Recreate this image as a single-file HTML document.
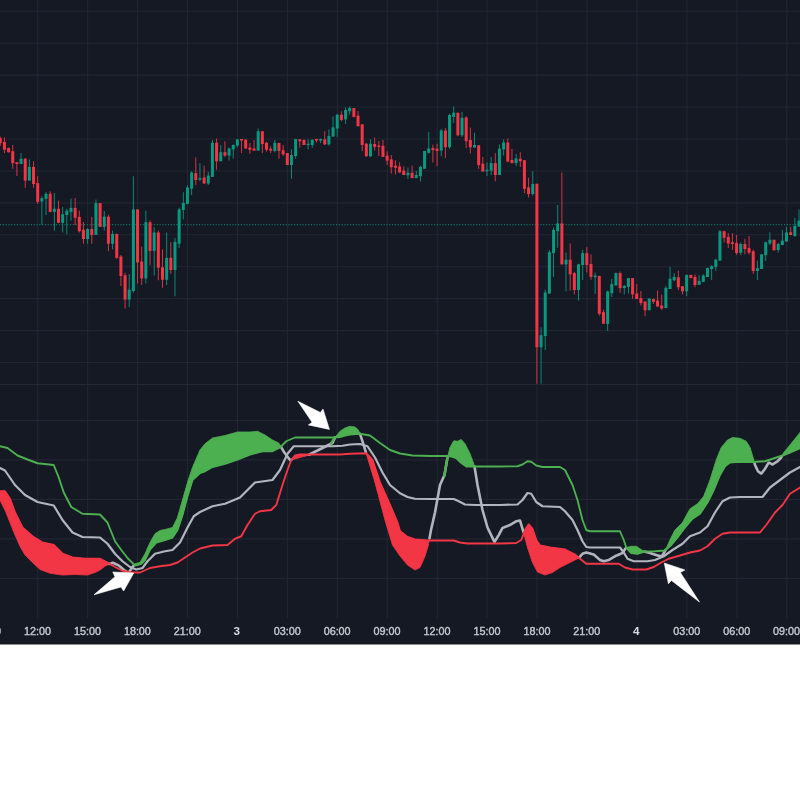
<!DOCTYPE html><html><head><meta charset="utf-8"><title>Chart</title>
<style>html,body{margin:0;padding:0;background:#fff;}body{width:800px;height:800px;overflow:hidden;font-family:"Liberation Sans",sans-serif;}svg{display:block}</style></head><body>
<svg width="800" height="800" viewBox="0 0 800 800">
<rect x="0" y="0" width="800" height="800" fill="#ffffff"/>
<rect x="0" y="0" width="800" height="644.5" fill="#151924"/>
<g stroke="#222632" stroke-width="1.1">
<line x1="37.7" y1="0" x2="37.7" y2="618"/>
<line x1="87.64" y1="0" x2="87.64" y2="618"/>
<line x1="137.57999999999998" y1="0" x2="137.57999999999998" y2="618"/>
<line x1="187.51999999999998" y1="0" x2="187.51999999999998" y2="618"/>
<line x1="237.45999999999998" y1="0" x2="237.45999999999998" y2="618"/>
<line x1="287.4" y1="0" x2="287.4" y2="618"/>
<line x1="337.34" y1="0" x2="337.34" y2="618"/>
<line x1="387.28" y1="0" x2="387.28" y2="618"/>
<line x1="437.21999999999997" y1="0" x2="437.21999999999997" y2="618"/>
<line x1="487.15999999999997" y1="0" x2="487.15999999999997" y2="618"/>
<line x1="537.1" y1="0" x2="537.1" y2="618"/>
<line x1="587.04" y1="0" x2="587.04" y2="618"/>
<line x1="636.98" y1="0" x2="636.98" y2="618"/>
<line x1="686.9200000000001" y1="0" x2="686.9200000000001" y2="618"/>
<line x1="736.86" y1="0" x2="736.86" y2="618"/>
<line x1="786.8" y1="0" x2="786.8" y2="618"/>
<line x1="0" y1="11.28" x2="800" y2="11.28"/>
<line x1="0" y1="43.21" x2="800" y2="43.21"/>
<line x1="0" y1="75.14" x2="800" y2="75.14"/>
<line x1="0" y1="107.07" x2="800" y2="107.07"/>
<line x1="0" y1="139.00" x2="800" y2="139.00"/>
<line x1="0" y1="170.93" x2="800" y2="170.93"/>
<line x1="0" y1="202.86" x2="800" y2="202.86"/>
<line x1="0" y1="234.79" x2="800" y2="234.79"/>
<line x1="0" y1="266.72" x2="800" y2="266.72"/>
<line x1="0" y1="298.65" x2="800" y2="298.65"/>
<line x1="0" y1="330.58" x2="800" y2="330.58"/>
<line x1="0" y1="362.51" x2="800" y2="362.51"/>
<line x1="0" y1="420.40" x2="800" y2="420.40"/>
<line x1="0" y1="459.90" x2="800" y2="459.90"/>
<line x1="0" y1="499.40" x2="800" y2="499.40"/>
<line x1="0" y1="538.90" x2="800" y2="538.90"/>
<line x1="0" y1="578.40" x2="800" y2="578.40"/>
</g>
<rect x="0" y="384" width="800" height="1" fill="#262a36"/>
<line x1="0" y1="224.7" x2="800" y2="224.7" stroke="#089981" stroke-width="1" stroke-dasharray="1.2 1.6" opacity="0.85"/>
<g style="filter:blur(0.35px)">
<rect x="-0.24" y="136.50" width="1" height="9.50" fill="#f23645" opacity="0.88"/>
<rect x="-1.24" y="138.10" width="3" height="5.00" fill="#f23645"/>
<rect x="3.92" y="137.50" width="1" height="15.60" fill="#f23645" opacity="0.88"/>
<rect x="2.92" y="141.90" width="3" height="7.85" fill="#f23645"/>
<rect x="8.08" y="147.50" width="1" height="5.00" fill="#f23645" opacity="0.88"/>
<rect x="7.08" y="148.10" width="3" height="4.15" fill="#f23645"/>
<rect x="12.24" y="145.00" width="1" height="23.75" fill="#f23645" opacity="0.88"/>
<rect x="11.24" y="151.25" width="3" height="11.85" fill="#f23645"/>
<rect x="16.40" y="161.90" width="1" height="14.10" fill="#f23645" opacity="0.88"/>
<rect x="15.40" y="162.25" width="3" height="1.75" fill="#f23645"/>
<rect x="20.56" y="153.10" width="1" height="10.90" fill="#089981" opacity="0.88"/>
<rect x="19.56" y="158.75" width="3" height="5.25" fill="#089981"/>
<rect x="24.72" y="158.50" width="1" height="29.25" fill="#f23645" opacity="0.88"/>
<rect x="23.72" y="158.50" width="3" height="22.10" fill="#f23645"/>
<rect x="28.88" y="159.40" width="1" height="21.20" fill="#089981" opacity="0.88"/>
<rect x="27.88" y="166.90" width="3" height="13.70" fill="#089981"/>
<rect x="33.04" y="161.25" width="1" height="26.50" fill="#f23645" opacity="0.88"/>
<rect x="32.04" y="166.90" width="3" height="17.10" fill="#f23645"/>
<rect x="37.20" y="176.25" width="1" height="27.75" fill="#f23645" opacity="0.88"/>
<rect x="36.20" y="183.10" width="3" height="18.80" fill="#f23645"/>
<rect x="41.36" y="196.25" width="1" height="28.50" fill="#089981" opacity="0.88"/>
<rect x="40.36" y="198.10" width="3" height="3.40" fill="#089981"/>
<rect x="45.52" y="192.25" width="1" height="22.75" fill="#089981" opacity="0.88"/>
<rect x="44.52" y="193.75" width="3" height="5.00" fill="#089981"/>
<rect x="49.68" y="191.25" width="1" height="21.00" fill="#f23645" opacity="0.88"/>
<rect x="48.68" y="193.75" width="3" height="18.15" fill="#f23645"/>
<rect x="53.84" y="193.10" width="1" height="37.50" fill="#089981" opacity="0.88"/>
<rect x="52.84" y="208.75" width="3" height="3.15" fill="#089981"/>
<rect x="58.00" y="200.60" width="1" height="22.50" fill="#f23645" opacity="0.88"/>
<rect x="57.00" y="208.75" width="3" height="14.00" fill="#f23645"/>
<rect x="62.16" y="206.90" width="1" height="25.60" fill="#089981" opacity="0.88"/>
<rect x="61.16" y="214.20" width="3" height="8.55" fill="#089981"/>
<rect x="66.32" y="208.75" width="1" height="25.65" fill="#089981" opacity="0.88"/>
<rect x="65.32" y="210.60" width="3" height="4.40" fill="#089981"/>
<rect x="70.48" y="198.75" width="1" height="21.85" fill="#089981" opacity="0.88"/>
<rect x="69.48" y="207.90" width="3" height="4.00" fill="#089981"/>
<rect x="74.64" y="198.00" width="1" height="27.00" fill="#f23645" opacity="0.88"/>
<rect x="73.64" y="207.90" width="3" height="9.90" fill="#f23645"/>
<rect x="78.80" y="210.60" width="1" height="21.90" fill="#f23645" opacity="0.88"/>
<rect x="77.80" y="216.90" width="3" height="14.35" fill="#f23645"/>
<rect x="82.96" y="221.90" width="1" height="21.85" fill="#f23645" opacity="0.88"/>
<rect x="81.96" y="229.75" width="3" height="9.25" fill="#f23645"/>
<rect x="87.12" y="228.00" width="1" height="15.75" fill="#089981" opacity="0.88"/>
<rect x="86.12" y="229.00" width="3" height="10.00" fill="#089981"/>
<rect x="91.28" y="216.90" width="1" height="26.85" fill="#f23645" opacity="0.88"/>
<rect x="90.28" y="229.00" width="3" height="6.00" fill="#f23645"/>
<rect x="95.44" y="199.50" width="1" height="35.50" fill="#089981" opacity="0.88"/>
<rect x="94.44" y="203.10" width="3" height="31.90" fill="#089981"/>
<rect x="99.60" y="203.10" width="1" height="23.80" fill="#f23645" opacity="0.88"/>
<rect x="98.60" y="203.10" width="3" height="23.80" fill="#f23645"/>
<rect x="103.76" y="211.00" width="1" height="19.60" fill="#089981" opacity="0.88"/>
<rect x="102.76" y="216.60" width="3" height="10.30" fill="#089981"/>
<rect x="107.92" y="214.70" width="1" height="36.55" fill="#f23645" opacity="0.88"/>
<rect x="106.92" y="216.60" width="3" height="27.15" fill="#f23645"/>
<rect x="112.08" y="230.60" width="1" height="18.80" fill="#089981" opacity="0.88"/>
<rect x="111.08" y="234.00" width="3" height="9.75" fill="#089981"/>
<rect x="116.24" y="233.40" width="1" height="25.35" fill="#f23645" opacity="0.88"/>
<rect x="115.24" y="234.00" width="3" height="23.80" fill="#f23645"/>
<rect x="120.40" y="255.00" width="1" height="31.00" fill="#f23645" opacity="0.88"/>
<rect x="119.40" y="256.50" width="3" height="19.50" fill="#f23645"/>
<rect x="124.56" y="272.80" width="1" height="35.60" fill="#f23645" opacity="0.88"/>
<rect x="123.56" y="275.25" width="3" height="24.35" fill="#f23645"/>
<rect x="128.72" y="274.00" width="1" height="33.00" fill="#089981" opacity="0.88"/>
<rect x="127.72" y="289.70" width="3" height="9.90" fill="#089981"/>
<rect x="132.88" y="176.25" width="1" height="116.25" fill="#089981" opacity="0.88"/>
<rect x="131.88" y="209.40" width="3" height="81.60" fill="#089981"/>
<rect x="137.04" y="209.40" width="1" height="74.10" fill="#f23645" opacity="0.88"/>
<rect x="136.04" y="209.40" width="3" height="53.10" fill="#f23645"/>
<rect x="141.20" y="246.50" width="1" height="38.50" fill="#f23645" opacity="0.88"/>
<rect x="140.20" y="261.50" width="3" height="16.90" fill="#f23645"/>
<rect x="145.36" y="210.50" width="1" height="73.00" fill="#089981" opacity="0.88"/>
<rect x="144.36" y="222.20" width="3" height="56.20" fill="#089981"/>
<rect x="149.52" y="220.30" width="1" height="45.00" fill="#f23645" opacity="0.88"/>
<rect x="148.52" y="222.20" width="3" height="28.70" fill="#f23645"/>
<rect x="153.68" y="227.25" width="1" height="48.35" fill="#089981" opacity="0.88"/>
<rect x="152.68" y="232.50" width="3" height="18.40" fill="#089981"/>
<rect x="157.84" y="230.60" width="1" height="49.70" fill="#f23645" opacity="0.88"/>
<rect x="156.84" y="232.50" width="3" height="35.25" fill="#f23645"/>
<rect x="162.00" y="249.40" width="1" height="38.40" fill="#f23645" opacity="0.88"/>
<rect x="161.00" y="267.20" width="3" height="12.55" fill="#f23645"/>
<rect x="166.16" y="232.50" width="1" height="52.50" fill="#089981" opacity="0.88"/>
<rect x="165.16" y="257.80" width="3" height="21.95" fill="#089981"/>
<rect x="170.32" y="242.25" width="1" height="31.50" fill="#f23645" opacity="0.88"/>
<rect x="169.32" y="257.80" width="3" height="12.20" fill="#f23645"/>
<rect x="174.48" y="238.10" width="1" height="58.15" fill="#089981" opacity="0.88"/>
<rect x="173.48" y="241.90" width="3" height="28.10" fill="#089981"/>
<rect x="178.64" y="207.75" width="1" height="40.15" fill="#089981" opacity="0.88"/>
<rect x="177.64" y="209.40" width="3" height="34.35" fill="#089981"/>
<rect x="182.80" y="192.20" width="1" height="27.20" fill="#089981" opacity="0.88"/>
<rect x="181.80" y="203.00" width="3" height="7.00" fill="#089981"/>
<rect x="186.96" y="185.25" width="1" height="19.15" fill="#089981" opacity="0.88"/>
<rect x="185.96" y="187.50" width="3" height="16.30" fill="#089981"/>
<rect x="191.12" y="171.40" width="1" height="23.60" fill="#089981" opacity="0.88"/>
<rect x="190.12" y="172.50" width="3" height="16.10" fill="#089981"/>
<rect x="195.28" y="157.50" width="1" height="27.50" fill="#f23645" opacity="0.88"/>
<rect x="194.28" y="173.10" width="3" height="6.90" fill="#f23645"/>
<rect x="199.44" y="163.10" width="1" height="18.15" fill="#089981" opacity="0.88"/>
<rect x="198.44" y="178.10" width="3" height="1.65" fill="#089981"/>
<rect x="203.60" y="165.60" width="1" height="18.15" fill="#f23645" opacity="0.88"/>
<rect x="202.60" y="177.50" width="3" height="6.00" fill="#f23645"/>
<rect x="207.76" y="171.90" width="1" height="13.10" fill="#089981" opacity="0.88"/>
<rect x="206.76" y="175.60" width="3" height="7.90" fill="#089981"/>
<rect x="211.92" y="140.00" width="1" height="36.90" fill="#089981" opacity="0.88"/>
<rect x="210.92" y="142.75" width="3" height="34.15" fill="#089981"/>
<rect x="216.08" y="138.50" width="1" height="31.25" fill="#f23645" opacity="0.88"/>
<rect x="215.08" y="142.75" width="3" height="18.50" fill="#f23645"/>
<rect x="220.24" y="145.00" width="1" height="16.25" fill="#089981" opacity="0.88"/>
<rect x="219.24" y="152.25" width="3" height="9.00" fill="#089981"/>
<rect x="224.40" y="141.25" width="1" height="15.65" fill="#f23645" opacity="0.88"/>
<rect x="223.40" y="152.25" width="3" height="3.35" fill="#f23645"/>
<rect x="228.56" y="147.50" width="1" height="13.10" fill="#089981" opacity="0.88"/>
<rect x="227.56" y="148.50" width="3" height="7.10" fill="#089981"/>
<rect x="232.72" y="144.40" width="1" height="14.35" fill="#089981" opacity="0.88"/>
<rect x="231.72" y="145.00" width="3" height="4.40" fill="#089981"/>
<rect x="236.88" y="139.00" width="1" height="7.90" fill="#089981" opacity="0.88"/>
<rect x="235.88" y="139.40" width="3" height="6.20" fill="#089981"/>
<rect x="241.04" y="139.00" width="1" height="14.10" fill="#f23645" opacity="0.88"/>
<rect x="240.04" y="139.00" width="3" height="1.60" fill="#f23645"/>
<rect x="245.20" y="139.00" width="1" height="10.00" fill="#f23645" opacity="0.88"/>
<rect x="244.20" y="139.75" width="3" height="8.75" fill="#f23645"/>
<rect x="249.36" y="143.10" width="1" height="10.65" fill="#f23645" opacity="0.88"/>
<rect x="248.36" y="147.50" width="3" height="2.25" fill="#f23645"/>
<rect x="253.52" y="140.00" width="1" height="10.60" fill="#f23645" opacity="0.88"/>
<rect x="252.52" y="148.50" width="3" height="2.10" fill="#f23645"/>
<rect x="257.68" y="128.50" width="1" height="22.10" fill="#089981" opacity="0.88"/>
<rect x="256.68" y="131.25" width="3" height="19.35" fill="#089981"/>
<rect x="261.84" y="131.00" width="1" height="22.10" fill="#f23645" opacity="0.88"/>
<rect x="260.84" y="131.25" width="3" height="12.75" fill="#f23645"/>
<rect x="266.00" y="141.90" width="1" height="9.60" fill="#f23645" opacity="0.88"/>
<rect x="265.00" y="142.75" width="3" height="7.00" fill="#f23645"/>
<rect x="270.16" y="146.25" width="1" height="6.85" fill="#f23645" opacity="0.88"/>
<rect x="269.16" y="148.75" width="3" height="1.85" fill="#f23645"/>
<rect x="274.32" y="140.00" width="1" height="12.50" fill="#089981" opacity="0.88"/>
<rect x="273.32" y="142.75" width="3" height="8.25" fill="#089981"/>
<rect x="278.48" y="142.75" width="1" height="16.00" fill="#f23645" opacity="0.88"/>
<rect x="277.48" y="143.10" width="3" height="7.90" fill="#f23645"/>
<rect x="282.64" y="145.00" width="1" height="11.00" fill="#f23645" opacity="0.88"/>
<rect x="281.64" y="150.25" width="3" height="4.15" fill="#f23645"/>
<rect x="286.80" y="153.10" width="1" height="11.90" fill="#f23645" opacity="0.88"/>
<rect x="285.80" y="153.10" width="3" height="11.90" fill="#f23645"/>
<rect x="290.96" y="149.40" width="1" height="29.35" fill="#089981" opacity="0.88"/>
<rect x="289.96" y="155.00" width="3" height="10.00" fill="#089981"/>
<rect x="295.12" y="139.00" width="1" height="19.75" fill="#089981" opacity="0.88"/>
<rect x="294.12" y="139.00" width="3" height="17.00" fill="#089981"/>
<rect x="299.28" y="139.00" width="1" height="8.75" fill="#f23645" opacity="0.88"/>
<rect x="298.28" y="139.40" width="3" height="1.85" fill="#f23645"/>
<rect x="303.44" y="139.40" width="1" height="5.60" fill="#f23645" opacity="0.88"/>
<rect x="302.44" y="140.00" width="3" height="5.00" fill="#f23645"/>
<rect x="307.60" y="139.40" width="1" height="10.00" fill="#089981" opacity="0.88"/>
<rect x="306.60" y="143.75" width="3" height="1.25" fill="#089981"/>
<rect x="311.76" y="139.40" width="1" height="8.35" fill="#089981" opacity="0.88"/>
<rect x="310.76" y="139.75" width="3" height="5.25" fill="#089981"/>
<rect x="315.92" y="138.75" width="1" height="3.75" fill="#f23645" opacity="0.88"/>
<rect x="314.92" y="139.00" width="3" height="1.60" fill="#f23645"/>
<rect x="320.08" y="138.50" width="1" height="4.60" fill="#089981" opacity="0.88"/>
<rect x="319.08" y="139.00" width="3" height="1.60" fill="#089981"/>
<rect x="324.24" y="131.25" width="1" height="13.75" fill="#f23645" opacity="0.88"/>
<rect x="323.24" y="139.40" width="3" height="5.00" fill="#f23645"/>
<rect x="328.40" y="129.40" width="1" height="16.20" fill="#089981" opacity="0.88"/>
<rect x="327.40" y="136.00" width="3" height="8.40" fill="#089981"/>
<rect x="332.56" y="116.50" width="1" height="20.40" fill="#089981" opacity="0.88"/>
<rect x="331.56" y="127.50" width="3" height="9.00" fill="#089981"/>
<rect x="336.72" y="113.75" width="1" height="23.15" fill="#089981" opacity="0.88"/>
<rect x="335.72" y="114.75" width="3" height="13.75" fill="#089981"/>
<rect x="340.88" y="111.25" width="1" height="10.00" fill="#f23645" opacity="0.88"/>
<rect x="339.88" y="114.75" width="3" height="5.25" fill="#f23645"/>
<rect x="345.04" y="107.50" width="1" height="16.50" fill="#089981" opacity="0.88"/>
<rect x="344.04" y="110.00" width="3" height="9.40" fill="#089981"/>
<rect x="349.20" y="106.50" width="1" height="8.25" fill="#089981" opacity="0.88"/>
<rect x="348.20" y="108.10" width="3" height="3.15" fill="#089981"/>
<rect x="353.36" y="108.10" width="1" height="9.40" fill="#f23645" opacity="0.88"/>
<rect x="352.36" y="108.10" width="3" height="8.80" fill="#f23645"/>
<rect x="357.52" y="111.00" width="1" height="15.25" fill="#f23645" opacity="0.88"/>
<rect x="356.52" y="115.60" width="3" height="10.65" fill="#f23645"/>
<rect x="361.68" y="124.00" width="1" height="27.25" fill="#f23645" opacity="0.88"/>
<rect x="360.68" y="124.40" width="3" height="20.60" fill="#f23645"/>
<rect x="365.84" y="143.10" width="1" height="13.80" fill="#f23645" opacity="0.88"/>
<rect x="364.84" y="143.75" width="3" height="12.50" fill="#f23645"/>
<rect x="370.00" y="139.40" width="1" height="17.50" fill="#089981" opacity="0.88"/>
<rect x="369.00" y="143.75" width="3" height="12.50" fill="#089981"/>
<rect x="374.16" y="137.50" width="1" height="13.10" fill="#f23645" opacity="0.88"/>
<rect x="373.16" y="144.00" width="3" height="2.90" fill="#f23645"/>
<rect x="378.32" y="141.00" width="1" height="15.00" fill="#f23645" opacity="0.88"/>
<rect x="377.32" y="145.60" width="3" height="1.30" fill="#f23645"/>
<rect x="382.48" y="140.00" width="1" height="16.90" fill="#f23645" opacity="0.88"/>
<rect x="381.48" y="145.80" width="3" height="11.10" fill="#f23645"/>
<rect x="386.64" y="151.25" width="1" height="13.75" fill="#f23645" opacity="0.88"/>
<rect x="385.64" y="155.60" width="3" height="5.00" fill="#f23645"/>
<rect x="390.80" y="155.00" width="1" height="18.50" fill="#f23645" opacity="0.88"/>
<rect x="389.80" y="159.40" width="3" height="7.85" fill="#f23645"/>
<rect x="394.96" y="160.25" width="1" height="14.15" fill="#f23645" opacity="0.88"/>
<rect x="393.96" y="165.60" width="3" height="2.15" fill="#f23645"/>
<rect x="399.12" y="162.25" width="1" height="10.25" fill="#f23645" opacity="0.88"/>
<rect x="398.12" y="166.50" width="3" height="6.00" fill="#f23645"/>
<rect x="403.28" y="166.50" width="1" height="8.50" fill="#f23645" opacity="0.88"/>
<rect x="402.28" y="170.60" width="3" height="4.40" fill="#f23645"/>
<rect x="407.44" y="167.50" width="1" height="11.50" fill="#089981" opacity="0.88"/>
<rect x="406.44" y="172.75" width="3" height="2.50" fill="#089981"/>
<rect x="411.60" y="165.60" width="1" height="12.50" fill="#f23645" opacity="0.88"/>
<rect x="410.60" y="172.75" width="3" height="5.35" fill="#f23645"/>
<rect x="415.76" y="171.00" width="1" height="7.10" fill="#089981" opacity="0.88"/>
<rect x="414.76" y="175.00" width="3" height="3.10" fill="#089981"/>
<rect x="419.92" y="165.60" width="1" height="15.90" fill="#089981" opacity="0.88"/>
<rect x="418.92" y="166.90" width="3" height="9.35" fill="#089981"/>
<rect x="424.08" y="151.00" width="1" height="17.75" fill="#089981" opacity="0.88"/>
<rect x="423.08" y="151.00" width="3" height="17.75" fill="#089981"/>
<rect x="428.24" y="131.90" width="1" height="21.60" fill="#089981" opacity="0.88"/>
<rect x="427.24" y="148.50" width="3" height="4.25" fill="#089981"/>
<rect x="432.40" y="144.75" width="1" height="17.75" fill="#f23645" opacity="0.88"/>
<rect x="431.40" y="148.10" width="3" height="1.90" fill="#f23645"/>
<rect x="436.56" y="143.75" width="1" height="22.50" fill="#f23645" opacity="0.88"/>
<rect x="435.56" y="148.75" width="3" height="2.25" fill="#f23645"/>
<rect x="440.72" y="129.00" width="1" height="27.25" fill="#089981" opacity="0.88"/>
<rect x="439.72" y="130.60" width="3" height="20.00" fill="#089981"/>
<rect x="444.88" y="128.10" width="1" height="30.00" fill="#f23645" opacity="0.88"/>
<rect x="443.88" y="130.60" width="3" height="16.65" fill="#f23645"/>
<rect x="449.04" y="113.75" width="1" height="35.00" fill="#089981" opacity="0.88"/>
<rect x="448.04" y="115.00" width="3" height="32.25" fill="#089981"/>
<rect x="453.20" y="106.50" width="1" height="16.60" fill="#089981" opacity="0.88"/>
<rect x="452.20" y="112.75" width="3" height="4.15" fill="#089981"/>
<rect x="457.36" y="112.75" width="1" height="23.50" fill="#f23645" opacity="0.88"/>
<rect x="456.36" y="112.75" width="3" height="22.50" fill="#f23645"/>
<rect x="461.52" y="111.90" width="1" height="25.00" fill="#089981" opacity="0.88"/>
<rect x="460.52" y="117.75" width="3" height="17.50" fill="#089981"/>
<rect x="465.68" y="116.25" width="1" height="31.85" fill="#f23645" opacity="0.88"/>
<rect x="464.68" y="117.50" width="3" height="23.75" fill="#f23645"/>
<rect x="469.84" y="127.50" width="1" height="26.00" fill="#f23645" opacity="0.88"/>
<rect x="468.84" y="140.00" width="3" height="7.25" fill="#f23645"/>
<rect x="474.00" y="132.75" width="1" height="14.75" fill="#089981" opacity="0.88"/>
<rect x="473.00" y="145.00" width="3" height="2.50" fill="#089981"/>
<rect x="478.16" y="145.00" width="1" height="23.75" fill="#f23645" opacity="0.88"/>
<rect x="477.16" y="145.30" width="3" height="19.80" fill="#f23645"/>
<rect x="482.32" y="156.90" width="1" height="15.00" fill="#f23645" opacity="0.88"/>
<rect x="481.32" y="163.75" width="3" height="7.75" fill="#f23645"/>
<rect x="486.48" y="162.25" width="1" height="13.75" fill="#089981" opacity="0.88"/>
<rect x="485.48" y="169.75" width="3" height="1.50" fill="#089981"/>
<rect x="490.64" y="156.90" width="1" height="18.10" fill="#089981" opacity="0.88"/>
<rect x="489.64" y="163.10" width="3" height="7.50" fill="#089981"/>
<rect x="494.80" y="153.10" width="1" height="28.15" fill="#f23645" opacity="0.88"/>
<rect x="493.80" y="163.10" width="3" height="11.90" fill="#f23645"/>
<rect x="498.96" y="144.40" width="1" height="30.60" fill="#089981" opacity="0.88"/>
<rect x="497.96" y="148.75" width="3" height="26.25" fill="#089981"/>
<rect x="503.12" y="139.40" width="1" height="16.20" fill="#089981" opacity="0.88"/>
<rect x="502.12" y="142.50" width="3" height="6.90" fill="#089981"/>
<rect x="507.28" y="138.50" width="1" height="23.75" fill="#f23645" opacity="0.88"/>
<rect x="506.28" y="142.50" width="3" height="19.00" fill="#f23645"/>
<rect x="511.44" y="148.75" width="1" height="14.75" fill="#f23645" opacity="0.88"/>
<rect x="510.44" y="160.00" width="3" height="3.10" fill="#f23645"/>
<rect x="515.60" y="154.00" width="1" height="12.00" fill="#089981" opacity="0.88"/>
<rect x="514.60" y="158.50" width="3" height="4.60" fill="#089981"/>
<rect x="519.76" y="152.25" width="1" height="14.65" fill="#f23645" opacity="0.88"/>
<rect x="518.76" y="158.75" width="3" height="2.50" fill="#f23645"/>
<rect x="523.92" y="160.00" width="1" height="33.10" fill="#f23645" opacity="0.88"/>
<rect x="522.92" y="160.25" width="3" height="28.50" fill="#f23645"/>
<rect x="528.08" y="177.75" width="1" height="19.75" fill="#f23645" opacity="0.88"/>
<rect x="527.08" y="187.50" width="3" height="6.50" fill="#f23645"/>
<rect x="532.24" y="171.25" width="1" height="24.35" fill="#089981" opacity="0.88"/>
<rect x="531.24" y="184.00" width="3" height="10.00" fill="#089981"/>
<rect x="536.40" y="183.75" width="1" height="200.00" fill="#f23645" opacity="0.88"/>
<rect x="535.40" y="183.75" width="3" height="163.50" fill="#f23645"/>
<rect x="540.56" y="327.25" width="1" height="56.50" fill="#089981" opacity="0.88"/>
<rect x="539.56" y="335.25" width="3" height="12.00" fill="#089981"/>
<rect x="544.72" y="289.75" width="1" height="60.25" fill="#089981" opacity="0.88"/>
<rect x="543.72" y="292.50" width="3" height="43.50" fill="#089981"/>
<rect x="548.88" y="250.00" width="1" height="43.75" fill="#089981" opacity="0.88"/>
<rect x="547.88" y="252.25" width="3" height="41.25" fill="#089981"/>
<rect x="553.04" y="227.50" width="1" height="49.40" fill="#089981" opacity="0.88"/>
<rect x="552.04" y="230.00" width="3" height="23.10" fill="#089981"/>
<rect x="557.20" y="205.00" width="1" height="42.75" fill="#089981" opacity="0.88"/>
<rect x="556.20" y="223.50" width="3" height="7.75" fill="#089981"/>
<rect x="561.36" y="172.50" width="1" height="91.90" fill="#f23645" opacity="0.88"/>
<rect x="560.36" y="223.50" width="3" height="40.90" fill="#f23645"/>
<rect x="565.52" y="252.50" width="1" height="39.00" fill="#089981" opacity="0.88"/>
<rect x="564.52" y="259.75" width="3" height="4.65" fill="#089981"/>
<rect x="569.68" y="243.50" width="1" height="47.10" fill="#f23645" opacity="0.88"/>
<rect x="568.68" y="259.75" width="3" height="14.65" fill="#f23645"/>
<rect x="573.84" y="271.90" width="1" height="22.50" fill="#f23645" opacity="0.88"/>
<rect x="572.84" y="273.10" width="3" height="16.90" fill="#f23645"/>
<rect x="578.00" y="263.75" width="1" height="36.85" fill="#089981" opacity="0.88"/>
<rect x="577.00" y="264.40" width="3" height="25.60" fill="#089981"/>
<rect x="582.16" y="249.75" width="1" height="30.25" fill="#089981" opacity="0.88"/>
<rect x="581.16" y="253.10" width="3" height="11.90" fill="#089981"/>
<rect x="586.32" y="246.90" width="1" height="25.60" fill="#f23645" opacity="0.88"/>
<rect x="585.32" y="253.10" width="3" height="11.90" fill="#f23645"/>
<rect x="590.48" y="254.40" width="1" height="25.35" fill="#f23645" opacity="0.88"/>
<rect x="589.48" y="264.00" width="3" height="12.90" fill="#f23645"/>
<rect x="594.64" y="272.50" width="1" height="21.25" fill="#089981" opacity="0.88"/>
<rect x="593.64" y="275.60" width="3" height="1.65" fill="#089981"/>
<rect x="598.80" y="275.60" width="1" height="40.00" fill="#f23645" opacity="0.88"/>
<rect x="597.80" y="276.00" width="3" height="37.90" fill="#f23645"/>
<rect x="602.96" y="309.60" width="1" height="14.15" fill="#f23645" opacity="0.88"/>
<rect x="601.96" y="312.20" width="3" height="11.55" fill="#f23645"/>
<rect x="607.12" y="290.60" width="1" height="40.40" fill="#089981" opacity="0.88"/>
<rect x="606.12" y="291.50" width="3" height="32.50" fill="#089981"/>
<rect x="611.28" y="278.75" width="1" height="18.25" fill="#089981" opacity="0.88"/>
<rect x="610.28" y="284.20" width="3" height="8.90" fill="#089981"/>
<rect x="615.44" y="272.60" width="1" height="13.00" fill="#089981" opacity="0.88"/>
<rect x="614.44" y="273.10" width="3" height="12.30" fill="#089981"/>
<rect x="619.60" y="271.50" width="1" height="21.25" fill="#f23645" opacity="0.88"/>
<rect x="618.60" y="273.10" width="3" height="15.00" fill="#f23645"/>
<rect x="623.76" y="285.00" width="1" height="9.40" fill="#089981" opacity="0.88"/>
<rect x="622.76" y="286.00" width="3" height="2.10" fill="#089981"/>
<rect x="627.92" y="278.10" width="1" height="15.40" fill="#089981" opacity="0.88"/>
<rect x="626.92" y="278.10" width="3" height="8.80" fill="#089981"/>
<rect x="632.08" y="278.10" width="1" height="20.65" fill="#f23645" opacity="0.88"/>
<rect x="631.08" y="278.10" width="3" height="16.30" fill="#f23645"/>
<rect x="636.24" y="284.00" width="1" height="15.00" fill="#f23645" opacity="0.88"/>
<rect x="635.24" y="293.50" width="3" height="5.50" fill="#f23645"/>
<rect x="640.40" y="291.00" width="1" height="14.60" fill="#f23645" opacity="0.88"/>
<rect x="639.40" y="298.10" width="3" height="5.00" fill="#f23645"/>
<rect x="644.56" y="301.50" width="1" height="14.75" fill="#f23645" opacity="0.88"/>
<rect x="643.56" y="301.50" width="3" height="8.75" fill="#f23645"/>
<rect x="648.72" y="298.50" width="1" height="11.75" fill="#089981" opacity="0.88"/>
<rect x="647.72" y="298.50" width="3" height="11.75" fill="#089981"/>
<rect x="652.88" y="298.50" width="1" height="5.25" fill="#f23645" opacity="0.88"/>
<rect x="651.88" y="299.00" width="3" height="2.90" fill="#f23645"/>
<rect x="657.04" y="290.60" width="1" height="16.30" fill="#f23645" opacity="0.88"/>
<rect x="656.04" y="300.60" width="3" height="5.90" fill="#f23645"/>
<rect x="661.20" y="294.40" width="1" height="15.60" fill="#f23645" opacity="0.88"/>
<rect x="660.20" y="305.60" width="3" height="2.90" fill="#f23645"/>
<rect x="665.36" y="286.25" width="1" height="21.85" fill="#089981" opacity="0.88"/>
<rect x="664.36" y="287.75" width="3" height="20.35" fill="#089981"/>
<rect x="669.52" y="266.90" width="1" height="22.10" fill="#089981" opacity="0.88"/>
<rect x="668.52" y="278.75" width="3" height="10.25" fill="#089981"/>
<rect x="673.68" y="273.10" width="1" height="7.90" fill="#089981" opacity="0.88"/>
<rect x="672.68" y="276.90" width="3" height="3.35" fill="#089981"/>
<rect x="677.84" y="270.60" width="1" height="19.40" fill="#f23645" opacity="0.88"/>
<rect x="676.84" y="277.25" width="3" height="10.00" fill="#f23645"/>
<rect x="682.00" y="286.00" width="1" height="8.40" fill="#f23645" opacity="0.88"/>
<rect x="681.00" y="286.25" width="3" height="5.00" fill="#f23645"/>
<rect x="686.16" y="274.40" width="1" height="21.85" fill="#089981" opacity="0.88"/>
<rect x="685.16" y="275.00" width="3" height="16.25" fill="#089981"/>
<rect x="690.32" y="274.75" width="1" height="3.35" fill="#f23645" opacity="0.88"/>
<rect x="689.32" y="275.00" width="3" height="3.10" fill="#f23645"/>
<rect x="694.48" y="274.40" width="1" height="12.85" fill="#f23645" opacity="0.88"/>
<rect x="693.48" y="276.90" width="3" height="8.10" fill="#f23645"/>
<rect x="698.64" y="275.25" width="1" height="9.50" fill="#089981" opacity="0.88"/>
<rect x="697.64" y="281.00" width="3" height="3.75" fill="#089981"/>
<rect x="702.80" y="274.20" width="1" height="7.70" fill="#089981" opacity="0.88"/>
<rect x="701.80" y="275.60" width="3" height="6.30" fill="#089981"/>
<rect x="706.96" y="267.60" width="1" height="9.40" fill="#089981" opacity="0.88"/>
<rect x="705.96" y="268.10" width="3" height="8.90" fill="#089981"/>
<rect x="711.12" y="265.25" width="1" height="14.75" fill="#089981" opacity="0.88"/>
<rect x="710.12" y="266.25" width="3" height="2.75" fill="#089981"/>
<rect x="715.28" y="258.75" width="1" height="12.25" fill="#089981" opacity="0.88"/>
<rect x="714.28" y="259.75" width="3" height="7.15" fill="#089981"/>
<rect x="719.44" y="230.00" width="1" height="30.60" fill="#089981" opacity="0.88"/>
<rect x="718.44" y="231.25" width="3" height="29.35" fill="#089981"/>
<rect x="723.60" y="230.60" width="1" height="11.90" fill="#f23645" opacity="0.88"/>
<rect x="722.60" y="231.25" width="3" height="6.50" fill="#f23645"/>
<rect x="727.76" y="233.10" width="1" height="15.00" fill="#f23645" opacity="0.88"/>
<rect x="726.76" y="236.90" width="3" height="6.60" fill="#f23645"/>
<rect x="731.92" y="233.10" width="1" height="16.90" fill="#f23645" opacity="0.88"/>
<rect x="730.92" y="242.25" width="3" height="1.75" fill="#f23645"/>
<rect x="736.08" y="235.00" width="1" height="19.75" fill="#f23645" opacity="0.88"/>
<rect x="735.08" y="243.10" width="3" height="10.00" fill="#f23645"/>
<rect x="740.24" y="242.50" width="1" height="12.75" fill="#089981" opacity="0.88"/>
<rect x="739.24" y="244.00" width="3" height="8.75" fill="#089981"/>
<rect x="744.40" y="238.75" width="1" height="15.65" fill="#f23645" opacity="0.88"/>
<rect x="743.40" y="244.00" width="3" height="5.00" fill="#f23645"/>
<rect x="748.56" y="236.00" width="1" height="18.40" fill="#f23645" opacity="0.88"/>
<rect x="747.56" y="248.10" width="3" height="4.65" fill="#f23645"/>
<rect x="752.72" y="249.75" width="1" height="24.00" fill="#f23645" opacity="0.88"/>
<rect x="751.72" y="251.25" width="3" height="19.75" fill="#f23645"/>
<rect x="756.88" y="260.60" width="1" height="19.40" fill="#089981" opacity="0.88"/>
<rect x="755.88" y="268.10" width="3" height="2.90" fill="#089981"/>
<rect x="761.04" y="254.00" width="1" height="15.00" fill="#089981" opacity="0.88"/>
<rect x="760.04" y="254.40" width="3" height="14.60" fill="#089981"/>
<rect x="765.20" y="241.50" width="1" height="19.50" fill="#089981" opacity="0.88"/>
<rect x="764.20" y="242.25" width="3" height="13.00" fill="#089981"/>
<rect x="769.36" y="232.25" width="1" height="12.75" fill="#089981" opacity="0.88"/>
<rect x="768.36" y="239.75" width="3" height="3.75" fill="#089981"/>
<rect x="773.52" y="239.75" width="1" height="10.85" fill="#f23645" opacity="0.88"/>
<rect x="772.52" y="239.75" width="3" height="10.50" fill="#f23645"/>
<rect x="777.68" y="243.10" width="1" height="9.40" fill="#089981" opacity="0.88"/>
<rect x="776.68" y="244.00" width="3" height="6.00" fill="#089981"/>
<rect x="781.84" y="229.75" width="1" height="15.50" fill="#089981" opacity="0.88"/>
<rect x="780.84" y="240.60" width="3" height="4.40" fill="#089981"/>
<rect x="786.00" y="226.90" width="1" height="15.00" fill="#089981" opacity="0.88"/>
<rect x="785.00" y="232.50" width="3" height="9.00" fill="#089981"/>
<rect x="790.16" y="226.90" width="1" height="8.35" fill="#f23645" opacity="0.88"/>
<rect x="789.16" y="232.25" width="3" height="2.75" fill="#f23645"/>
<rect x="794.32" y="217.75" width="1" height="19.15" fill="#089981" opacity="0.88"/>
<rect x="793.32" y="226.00" width="3" height="10.00" fill="#089981"/>
<rect x="798.48" y="209.40" width="1" height="17.50" fill="#089981" opacity="0.88"/>
<rect x="797.48" y="220.60" width="3" height="5.90" fill="#089981"/>
</g>
<polygon points="134.00,565.11 134.50,564.43 135.00,563.75 135.50,563.62 136.00,563.50 136.50,563.38 137.00,563.25 137.50,563.12 138.00,563.00 138.50,562.88 139.00,562.75 139.50,562.62 140.00,562.50 140.50,561.62 141.00,560.75 141.50,559.88 142.00,559.00 142.50,558.12 143.00,557.25 143.50,556.38 144.00,555.50 144.50,554.62 145.00,553.75 145.50,552.62 146.00,551.50 146.50,550.38 147.00,549.25 147.50,548.12 148.00,547.00 148.50,545.88 149.00,544.75 149.50,543.62 150.00,542.50 150.50,541.62 151.00,540.75 151.50,539.88 152.00,539.00 152.50,538.12 153.00,537.25 153.50,536.38 154.00,535.50 154.50,534.62 155.00,533.75 155.50,533.42 156.00,533.10 156.50,532.77 157.00,532.45 157.50,532.12 158.00,531.80 158.50,531.48 159.00,531.15 159.50,530.83 160.00,530.50 160.50,530.40 161.00,530.30 161.50,530.20 162.00,530.10 162.50,530.00 163.00,529.90 163.50,529.80 164.00,529.70 164.50,529.60 165.00,529.50 165.50,529.37 166.00,529.23 166.50,529.10 167.00,528.97 167.50,528.83 168.00,528.70 168.50,528.57 169.00,528.43 169.50,528.30 170.00,528.17 170.50,528.03 171.00,527.90 171.50,527.77 172.00,527.63 172.50,527.50 173.00,526.50 173.50,525.50 174.00,524.50 174.50,523.50 175.00,522.50 175.50,521.50 176.00,520.50 176.50,519.50 177.00,518.50 177.50,517.50 178.00,515.75 178.50,514.00 179.00,512.25 179.50,510.50 180.00,508.75 180.50,507.00 181.00,505.25 181.50,503.50 182.00,501.75 182.50,500.00 183.00,498.25 183.50,496.50 184.00,494.75 184.50,493.00 185.00,491.25 185.50,489.50 186.00,487.75 186.50,486.00 187.00,484.25 187.50,482.50 188.00,481.00 188.50,479.50 189.00,478.00 189.50,476.50 190.00,475.00 190.50,473.50 191.00,472.00 191.50,470.50 192.00,469.00 192.50,467.50 193.00,466.33 193.50,465.17 194.00,464.00 194.50,462.83 195.00,461.67 195.50,460.50 196.00,459.33 196.50,458.17 197.00,457.00 197.50,455.83 198.00,454.67 198.50,453.50 199.00,452.33 199.50,451.17 200.00,450.00 200.50,449.38 201.00,448.75 201.50,448.12 202.00,447.50 202.50,446.88 203.00,446.25 203.50,445.62 204.00,445.00 204.50,444.38 205.00,443.75 205.50,443.37 206.00,442.98 206.50,442.60 207.00,442.22 207.50,441.83 208.00,441.45 208.50,441.07 209.00,440.68 209.50,440.30 210.00,439.92 210.50,439.53 211.00,439.15 211.50,438.77 212.00,438.38 212.50,438.00 213.00,437.90 213.50,437.80 214.00,437.70 214.50,437.60 215.00,437.50 215.50,437.40 216.00,437.30 216.50,437.20 217.00,437.10 217.50,437.00 218.00,436.90 218.50,436.80 219.00,436.70 219.50,436.60 220.00,436.50 220.50,436.40 221.00,436.30 221.50,436.20 222.00,436.10 222.50,436.00 223.00,435.90 223.50,435.80 224.00,435.70 224.50,435.60 225.00,435.50 225.50,435.36 226.00,435.22 226.50,435.08 227.00,434.94 227.50,434.80 228.00,434.66 228.50,434.52 229.00,434.38 229.50,434.24 230.00,434.10 230.50,433.96 231.00,433.82 231.50,433.68 232.00,433.54 232.50,433.40 233.00,433.26 233.50,433.12 234.00,432.98 234.50,432.84 235.00,432.70 235.50,432.56 236.00,432.42 236.50,432.28 237.00,432.14 237.50,432.00 238.00,432.00 238.50,432.00 239.00,432.00 239.50,432.00 240.00,432.00 240.50,432.00 241.00,432.00 241.50,432.00 242.00,432.00 242.50,432.00 243.00,432.00 243.50,432.00 244.00,432.00 244.50,432.00 245.00,432.00 245.50,432.00 246.00,432.00 246.50,432.00 247.00,432.00 247.50,432.00 248.00,432.00 248.50,432.00 249.00,432.00 249.50,432.00 250.00,432.00 250.50,431.95 251.00,431.90 251.50,431.85 252.00,431.80 252.50,431.75 253.00,431.70 253.50,431.65 254.00,431.60 254.50,431.55 255.00,431.50 255.50,431.45 256.00,431.40 256.50,431.35 257.00,431.30 257.50,431.25 258.00,431.50 258.50,431.75 259.00,432.00 259.50,432.25 260.00,432.50 260.50,432.75 261.00,433.00 261.50,433.25 262.00,433.50 262.50,433.75 263.00,434.00 263.50,434.25 264.00,434.50 264.50,434.75 265.00,435.00 265.50,435.33 266.00,435.67 266.50,436.00 267.00,436.33 267.50,436.67 268.00,437.00 268.50,437.33 269.00,437.67 269.50,438.00 270.00,438.33 270.50,438.67 271.00,439.00 271.50,439.33 272.00,439.67 272.50,440.00 273.00,440.24 273.50,440.48 274.00,440.72 274.50,440.96 275.00,441.20 275.50,441.44 276.00,441.68 276.50,441.92 277.00,442.16 277.50,442.40 278.00,442.64 278.50,442.88 279.00,443.43 279.50,444.29 280.00,445.14 280.50,446.00 281.00,446.86 281.00,446.50 280.50,447.00 280.00,447.50 279.50,447.75 279.00,448.00 278.50,448.25 278.00,448.50 277.50,448.75 277.00,449.00 276.50,449.25 276.00,449.50 275.50,449.75 275.00,450.00 274.50,450.25 274.00,450.50 273.50,450.75 273.00,451.00 272.50,451.25 272.00,451.25 271.50,451.25 271.00,451.25 270.50,451.25 270.00,451.25 269.50,451.25 269.00,451.25 268.50,451.25 268.00,451.25 267.50,451.25 267.00,451.25 266.50,451.25 266.00,451.25 265.50,451.25 265.00,451.25 264.50,451.25 264.00,451.25 263.50,451.25 263.00,451.25 262.50,451.25 262.00,451.38 261.50,451.51 261.00,451.64 260.50,451.77 260.00,451.90 259.50,452.03 259.00,452.16 258.50,452.29 258.00,452.42 257.50,452.55 257.00,452.68 256.50,452.81 256.00,452.94 255.50,453.07 255.00,453.20 254.50,453.33 254.00,453.46 253.50,453.59 253.00,453.72 252.50,453.85 252.00,453.98 251.50,454.11 251.00,454.24 250.50,454.37 250.00,454.50 249.50,454.70 249.00,454.90 248.50,455.10 248.00,455.30 247.50,455.50 247.00,455.70 246.50,455.90 246.00,456.10 245.50,456.30 245.00,456.50 244.50,456.70 244.00,456.90 243.50,457.10 243.00,457.30 242.50,457.50 242.00,457.70 241.50,457.90 241.00,458.10 240.50,458.30 240.00,458.50 239.50,458.70 239.00,458.90 238.50,459.10 238.00,459.30 237.50,459.50 237.00,459.67 236.50,459.84 236.00,460.01 235.50,460.18 235.00,460.35 234.50,460.52 234.00,460.69 233.50,460.86 233.00,461.03 232.50,461.20 232.00,461.37 231.50,461.54 231.00,461.71 230.50,461.88 230.00,462.05 229.50,462.22 229.00,462.39 228.50,462.56 228.00,462.73 227.50,462.90 227.00,463.07 226.50,463.24 226.00,463.41 225.50,463.58 225.00,463.75 224.50,463.88 224.00,464.01 223.50,464.14 223.00,464.27 222.50,464.40 222.00,464.53 221.50,464.66 221.00,464.79 220.50,464.92 220.00,465.05 219.50,465.18 219.00,465.31 218.50,465.44 218.00,465.57 217.50,465.70 217.00,465.83 216.50,465.96 216.00,466.09 215.50,466.22 215.00,466.35 214.50,466.48 214.00,466.61 213.50,466.74 213.00,466.87 212.50,467.00 212.00,467.28 211.50,467.57 211.00,467.85 210.50,468.13 210.00,468.42 209.50,468.70 209.00,468.98 208.50,469.27 208.00,469.55 207.50,469.83 207.00,470.12 206.50,470.40 206.00,470.68 205.50,470.97 205.00,471.25 204.50,471.43 204.00,471.60 203.50,471.77 203.00,471.95 202.50,472.12 202.00,472.30 201.50,472.48 201.00,472.65 200.50,472.82 200.00,473.00 199.50,473.47 199.00,473.93 198.50,474.40 198.00,474.87 197.50,475.33 197.00,475.80 196.50,476.27 196.00,476.73 195.50,477.20 195.00,477.67 194.50,478.13 194.00,478.60 193.50,479.07 193.00,479.53 192.50,480.00 192.00,481.62 191.50,483.25 191.00,484.88 190.50,486.50 190.00,488.12 189.50,489.75 189.00,491.38 188.50,493.00 188.00,494.62 187.50,496.25 187.00,498.12 186.50,500.00 186.00,501.88 185.50,503.75 185.00,505.62 184.50,507.50 184.00,509.38 183.50,511.25 183.00,513.12 182.50,515.00 182.00,516.50 181.50,518.00 181.00,519.50 180.50,521.00 180.00,522.50 179.50,524.00 179.00,525.50 178.50,527.00 178.00,528.50 177.50,530.00 177.00,530.75 176.50,531.50 176.00,532.25 175.50,533.00 175.00,533.75 174.50,534.50 174.00,535.25 173.50,536.00 173.00,536.75 172.50,537.50 172.00,537.67 171.50,537.83 171.00,538.00 170.50,538.17 170.00,538.33 169.50,538.50 169.00,538.67 168.50,538.83 168.00,539.00 167.50,539.17 167.00,539.33 166.50,539.50 166.00,539.67 165.50,539.83 165.00,540.00 164.50,540.14 164.00,540.29 163.50,540.43 163.00,540.57 162.50,540.71 162.00,540.86 161.50,541.00 161.00,541.14 160.50,541.29 160.00,541.43 159.50,541.57 159.00,541.71 158.50,541.86 158.00,542.00 157.50,542.14 157.00,542.29 156.50,542.43 156.00,542.78 155.50,543.34 155.00,543.90 154.50,544.46 154.00,545.02 153.50,545.58 153.00,546.14 152.50,546.70 152.00,547.26 151.50,547.82 151.00,548.38 150.50,548.94 150.00,549.50 149.50,550.55 149.00,551.60 148.50,552.65 148.00,553.70 147.50,554.75 147.00,555.80 146.50,556.85 146.00,557.90 145.50,558.95 145.00,560.00 144.50,560.50 144.00,561.00 143.50,561.50 143.00,562.00 142.50,562.50 142.00,563.00 141.50,563.50 141.00,563.82 140.50,563.96 140.00,564.10 139.50,564.24 139.00,564.38 138.50,564.52 138.00,564.66 137.50,564.80 137.00,564.94 136.50,565.08 136.00,565.22 135.50,565.36 135.00,565.50 134.50,565.00 134.00,564.50" fill="#4caf50" stroke="#4caf50" stroke-width="1" stroke-linejoin="round"/>
<polygon points="335.00,437.50 335.50,436.88 336.00,436.25 336.50,435.62 337.00,435.00 337.50,434.38 338.00,433.75 338.50,433.12 339.00,432.50 339.50,431.88 340.00,431.25 340.50,430.93 341.00,430.60 341.50,430.27 342.00,429.95 342.50,429.62 343.00,429.30 343.50,428.98 344.00,428.65 344.50,428.32 345.00,428.00 345.50,427.82 346.00,427.65 346.50,427.48 347.00,427.30 347.50,427.12 348.00,426.95 348.50,426.77 349.00,426.60 349.50,426.43 350.00,426.25 350.50,426.32 351.00,426.40 351.50,426.48 352.00,426.55 352.50,426.62 353.00,426.70 353.50,426.77 354.00,426.85 354.50,426.93 355.00,427.00 355.50,427.42 356.00,427.83 356.50,428.25 357.00,428.67 357.50,429.08 358.00,429.50 358.50,430.56 359.00,431.62 359.50,432.69 360.00,433.75 360.00,433.75 359.50,433.79 359.00,433.82 358.50,433.86 358.00,433.90 357.50,433.94 357.00,433.98 356.50,434.01 356.00,434.05 355.50,434.09 355.00,434.12 354.50,434.16 354.00,434.20 353.50,434.24 353.00,434.27 352.50,434.31 352.00,434.35 351.50,434.39 351.00,434.43 350.50,434.46 350.00,434.50 349.50,434.60 349.00,434.70 348.50,434.80 348.00,434.90 347.50,435.00 347.00,435.10 346.50,435.20 346.00,435.30 345.50,435.40 345.00,435.50 344.50,435.65 344.00,435.80 343.50,435.95 343.00,436.10 342.50,436.25 342.00,436.40 341.50,436.55 341.00,436.70 340.50,436.85 340.00,437.00 339.50,437.03 339.00,437.07 338.50,437.10 338.00,437.13 337.50,437.17 337.00,437.20 336.50,437.23 336.00,437.27 335.50,437.30 335.00,437.33" fill="#4caf50" stroke="#4caf50" stroke-width="1" stroke-linejoin="round"/>
<polygon points="447.50,457.50 448.00,455.50 448.50,453.50 449.00,451.50 449.50,449.50 450.00,447.50 450.50,446.60 451.00,445.70 451.50,444.80 452.00,443.90 452.50,443.00 453.00,442.10 453.50,441.20 454.00,440.78 454.50,440.85 455.00,440.92 455.50,440.98 456.00,441.05 456.50,441.12 457.00,441.18 457.50,441.25 458.00,441.02 458.50,440.78 459.00,440.55 459.50,440.32 460.00,440.08 460.50,439.85 461.00,439.62 461.50,439.78 462.00,440.35 462.50,440.92 463.00,441.48 463.50,442.05 464.00,442.62 464.50,443.18 465.00,443.75 465.50,444.75 466.00,445.75 466.50,446.75 467.00,447.75 467.50,448.75 468.00,449.75 468.50,450.75 469.00,451.75 469.50,452.75 470.00,453.75 470.50,455.08 471.00,456.42 471.50,457.75 472.00,459.08 472.50,460.42 473.00,461.75 473.50,463.08 474.00,464.67 474.50,466.50 474.50,466.50 474.00,466.50 473.50,466.50 473.00,466.50 472.50,466.50 472.00,466.50 471.50,466.50 471.00,466.50 470.50,466.50 470.00,466.50 469.50,466.50 469.00,466.50 468.50,466.50 468.00,466.50 467.50,466.50 467.00,466.50 466.50,466.50 466.00,466.32 465.50,465.98 465.00,465.62 464.50,465.27 464.00,464.93 463.50,464.57 463.00,464.23 462.50,463.88 462.00,463.52 461.50,463.18 461.00,462.75 460.50,462.25 460.00,461.75 459.50,461.25 459.00,460.75 458.50,460.25 458.00,459.75 457.50,459.25 457.00,458.75 456.50,458.25 456.00,457.93 455.50,457.77 455.00,457.62 454.50,457.48 454.00,457.32 453.50,457.18 453.00,457.02 452.50,456.88 452.00,456.73 451.50,456.57 451.00,456.47 450.50,456.40 450.00,456.33 449.50,456.27 449.00,456.20 448.50,456.13 448.00,456.07 447.50,456.00" fill="#4caf50" stroke="#4caf50" stroke-width="1" stroke-linejoin="round"/>
<polygon points="626.00,547.87 626.50,547.44 627.00,547.31 627.50,547.19 628.00,547.06 628.50,546.94 629.00,546.81 629.50,546.69 630.00,546.56 630.50,546.44 631.00,546.31 631.50,546.25 632.00,546.25 632.50,546.25 633.00,546.25 633.50,546.25 634.00,546.25 634.50,546.25 635.00,546.25 635.50,546.25 636.00,546.25 636.50,546.42 637.00,546.75 637.50,547.08 638.00,547.42 638.50,547.75 639.00,548.08 639.50,548.42 640.00,548.75 640.50,549.08 641.00,549.42 641.50,549.75 642.00,550.08 642.50,550.42 643.00,550.75 643.50,551.08 644.00,551.32 644.50,551.46 645.00,551.60 645.50,551.74 645.50,551.67 645.00,551.69 644.50,551.72 644.00,551.74 643.50,551.83 643.00,551.99 642.50,552.15 642.00,552.31 641.50,552.47 641.00,552.63 640.50,552.79 640.00,552.95 639.50,553.11 639.00,553.27 638.50,553.43 638.00,553.59 637.50,553.75 637.00,553.69 636.50,553.63 636.00,553.57 635.50,553.51 635.00,553.45 634.50,553.39 634.00,553.33 633.50,553.27 633.00,553.21 632.50,553.15 632.00,553.09 631.50,553.03 631.00,552.73 630.50,552.17 630.00,551.62 629.50,551.08 629.00,550.52 628.50,549.98 628.00,549.42 627.50,548.88 627.00,548.33 626.50,547.77 626.00,546.75" fill="#4caf50" stroke="#4caf50" stroke-width="1" stroke-linejoin="round"/>
<polygon points="665.00,551.00 665.50,549.90 666.00,548.80 666.50,547.70 667.00,546.60 667.50,545.50 668.00,544.40 668.50,543.30 669.00,542.20 669.50,541.10 670.00,540.00 670.50,539.00 671.00,538.00 671.50,537.00 672.00,536.00 672.50,535.00 673.00,534.00 673.50,533.00 674.00,532.00 674.50,531.00 675.00,530.00 675.50,529.50 676.00,529.00 676.50,528.50 677.00,528.00 677.50,527.50 678.00,527.00 678.50,526.50 679.00,526.00 679.50,525.50 680.00,525.00 680.50,524.50 681.00,524.00 681.50,523.50 682.00,523.00 682.50,522.50 683.00,521.58 683.50,520.67 684.00,519.75 684.50,518.83 685.00,517.92 685.50,517.00 686.00,516.08 686.50,515.17 687.00,514.25 687.50,513.33 688.00,512.42 688.50,511.50 689.00,510.58 689.50,509.67 690.00,508.75 690.50,508.42 691.00,508.08 691.50,507.75 692.00,507.42 692.50,507.08 693.00,506.75 693.50,506.42 694.00,506.08 694.50,505.75 695.00,505.42 695.50,505.08 696.00,504.75 696.50,504.42 697.00,504.08 697.50,503.75 698.00,503.15 698.50,502.55 699.00,501.95 699.50,501.35 700.00,500.75 700.50,500.15 701.00,499.55 701.50,498.95 702.00,498.35 702.50,497.75 703.00,497.15 703.50,496.55 704.00,495.60 704.50,494.30 705.00,493.00 705.50,491.70 706.00,490.40 706.50,489.10 707.00,487.80 707.50,486.50 708.00,485.20 708.50,483.90 709.00,482.60 709.50,481.30 710.00,480.00 710.50,478.40 711.00,476.80 711.50,475.20 712.00,473.60 712.50,472.00 713.00,470.40 713.50,468.80 714.00,467.20 714.50,465.60 715.00,464.00 715.50,462.40 716.00,460.80 716.50,459.38 717.00,458.12 717.50,456.88 718.00,455.62 718.50,454.38 719.00,453.12 719.50,451.88 720.00,450.62 720.50,449.38 721.00,448.12 721.50,447.20 722.00,446.60 722.50,446.00 723.00,445.40 723.50,444.80 724.00,444.20 724.50,443.60 725.00,443.00 725.50,442.40 726.00,441.80 726.50,441.20 727.00,440.60 727.50,440.00 728.00,439.75 728.50,439.50 729.00,439.25 729.50,439.00 730.00,438.75 730.50,438.50 731.00,438.25 731.50,438.00 732.00,437.75 732.50,437.50 733.00,437.55 733.50,437.60 734.00,437.65 734.50,437.70 735.00,437.75 735.50,437.80 736.00,437.85 736.50,437.90 737.00,437.95 737.50,438.00 738.00,438.05 738.50,438.10 739.00,438.15 739.50,438.20 740.00,438.25 740.50,438.49 741.00,438.73 741.50,438.97 742.00,439.21 742.50,439.45 743.00,439.69 743.50,439.93 744.00,440.17 744.50,440.41 745.00,440.65 745.50,440.89 746.00,441.13 746.50,441.67 747.00,442.50 747.50,443.33 748.00,444.17 748.50,445.00 749.00,445.83 749.50,446.67 750.00,447.50 750.50,449.10 751.00,450.70 751.50,452.30 752.00,453.90 752.50,455.50 753.00,457.40 753.50,459.30 754.00,461.20 754.50,463.10 754.50,461.88 754.00,461.91 753.50,461.94 753.00,461.97 752.50,462.00 752.00,462.00 751.50,462.00 751.00,462.00 750.50,462.00 750.00,462.00 749.50,462.00 749.00,462.00 748.50,462.00 748.00,462.00 747.50,462.00 747.00,462.00 746.50,462.00 746.00,462.00 745.50,462.00 745.00,462.00 744.50,462.00 744.00,462.00 743.50,462.00 743.00,462.00 742.50,462.00 742.00,462.00 741.50,462.00 741.00,462.00 740.50,462.00 740.00,462.00 739.50,462.00 739.00,462.00 738.50,462.00 738.00,462.00 737.50,462.00 737.00,462.00 736.50,462.00 736.00,462.02 735.50,462.06 735.00,462.10 734.50,462.14 734.00,462.18 733.50,462.22 733.00,462.26 732.50,462.30 732.00,462.34 731.50,462.38 731.00,462.42 730.50,462.46 730.00,462.50 729.50,462.88 729.00,463.25 728.50,463.62 728.00,464.00 727.50,464.38 727.00,464.75 726.50,465.12 726.00,465.50 725.50,465.88 725.00,466.25 724.50,467.12 724.00,468.00 723.50,468.88 723.00,469.75 722.50,470.62 722.00,471.50 721.50,472.38 721.00,473.25 720.50,474.12 720.00,475.00 719.50,476.20 719.00,477.40 718.50,478.60 718.00,479.80 717.50,481.00 717.00,482.20 716.50,483.40 716.00,484.60 715.50,485.80 715.00,487.00 714.50,488.20 714.00,489.40 713.50,490.50 713.00,491.50 712.50,492.50 712.00,493.50 711.50,494.50 711.00,495.50 710.50,496.50 710.00,497.50 709.50,498.50 709.00,499.50 708.50,500.50 708.00,501.50 707.50,502.50 707.00,503.25 706.50,504.00 706.00,504.75 705.50,505.50 705.00,506.25 704.50,507.00 704.00,507.75 703.50,508.50 703.00,509.25 702.50,510.00 702.00,510.75 701.50,511.50 701.00,512.25 700.50,513.00 700.00,513.75 699.50,514.08 699.00,514.42 698.50,514.75 698.00,515.08 697.50,515.42 697.00,515.75 696.50,516.08 696.00,516.42 695.50,516.75 695.00,517.08 694.50,517.42 694.00,517.75 693.50,518.08 693.00,518.42 692.50,518.75 692.00,519.33 691.50,519.92 691.00,520.50 690.50,521.08 690.00,521.67 689.50,522.25 689.00,522.83 688.50,523.42 688.00,524.00 687.50,524.58 687.00,525.17 686.50,525.75 686.00,526.33 685.50,526.92 685.00,527.50 684.50,528.17 684.00,528.83 683.50,529.50 683.00,530.17 682.50,530.83 682.00,531.50 681.50,532.17 681.00,532.83 680.50,533.50 680.00,534.17 679.50,534.83 679.00,535.50 678.50,536.17 678.00,536.83 677.50,537.50 677.00,538.10 676.50,538.70 676.00,539.30 675.50,539.90 675.00,540.50 674.50,541.10 674.00,541.70 673.50,542.30 673.00,542.90 672.50,543.50 672.00,544.10 671.50,544.70 671.00,545.22 670.50,545.66 670.00,546.10 669.50,546.54 669.00,546.98 668.50,547.42 668.00,547.86 667.50,548.30 667.00,548.74 666.50,549.18 666.00,549.62 665.50,550.06 665.00,550.50" fill="#4caf50" stroke="#4caf50" stroke-width="1" stroke-linejoin="round"/>
<polygon points="782.00,456.00 782.50,455.00 783.00,454.00 783.50,453.00 784.00,452.20 784.50,451.60 785.00,451.00 785.50,450.40 786.00,449.80 786.50,449.20 787.00,448.60 787.50,448.00 788.00,447.40 788.50,446.80 789.00,446.20 789.50,445.60 790.00,445.00 790.50,444.38 791.00,443.75 791.50,443.12 792.00,442.50 792.50,441.88 793.00,441.25 793.50,440.62 794.00,440.00 794.50,439.38 795.00,438.75 795.50,438.12 796.00,437.50 796.50,436.88 797.00,436.25 797.50,435.62 798.00,435.00 798.50,434.38 799.00,433.75 799.50,433.12 800.00,432.50 800.50,431.88 801.00,431.25 801.50,430.62 802.00,430.00 802.00,447.50 801.50,447.71 801.00,447.92 800.50,448.12 800.00,448.33 799.50,448.54 799.00,448.75 798.50,448.96 798.00,449.17 797.50,449.38 797.00,449.58 796.50,449.79 796.00,450.00 795.50,450.21 795.00,450.42 794.50,450.62 794.00,450.83 793.50,451.04 793.00,451.25 792.50,451.46 792.00,451.67 791.50,451.88 791.00,452.08 790.50,452.29 790.00,452.50 789.50,452.70 789.00,452.90 788.50,453.10 788.00,453.30 787.50,453.50 787.00,453.70 786.50,453.90 786.00,454.10 785.50,454.30 785.00,454.50 784.50,454.70 784.00,454.90 783.50,455.10 783.00,455.30 782.50,455.50 782.00,455.67" fill="#4caf50" stroke="#4caf50" stroke-width="1" stroke-linejoin="round"/>
<polygon points="-2.00,491.25 -1.50,491.25 -1.00,491.25 -0.50,491.25 0.00,491.25 0.50,491.25 1.00,491.25 1.50,491.25 2.00,491.25 2.50,491.25 3.00,491.25 3.50,491.25 4.00,491.25 4.50,491.25 5.00,491.25 5.50,492.00 6.00,492.75 6.50,493.50 7.00,494.25 7.50,495.00 8.00,495.75 8.50,496.50 9.00,497.25 9.50,498.00 10.00,498.75 10.50,500.12 11.00,501.50 11.50,502.88 12.00,504.25 12.50,505.62 13.00,507.00 13.50,508.38 14.00,509.75 14.50,511.12 15.00,512.50 15.50,513.50 16.00,514.50 16.50,515.50 17.00,516.50 17.50,517.50 18.00,518.50 18.50,519.50 19.00,520.50 19.50,521.50 20.00,522.50 20.50,523.50 21.00,524.50 21.50,525.50 22.00,526.50 22.50,527.50 23.00,527.94 23.50,528.38 24.00,528.81 24.50,529.25 25.00,529.69 25.50,530.12 26.00,530.56 26.50,531.00 27.00,531.44 27.50,531.88 28.00,532.31 28.50,532.75 29.00,533.19 29.50,533.62 30.00,534.06 30.50,534.50 31.00,534.94 31.50,535.38 32.00,535.81 32.50,536.25 33.00,536.56 33.50,536.88 34.00,537.19 34.50,537.50 35.00,537.81 35.50,538.12 36.00,538.44 36.50,538.75 37.00,539.06 37.50,539.38 38.00,539.69 38.50,540.00 39.00,540.31 39.50,540.62 40.00,540.94 40.50,541.25 41.00,541.56 41.50,541.88 42.00,542.19 42.50,542.50 43.00,542.61 43.50,542.72 44.00,542.83 44.50,542.94 45.00,543.06 45.50,543.17 46.00,543.28 46.50,543.39 47.00,543.50 47.50,543.61 48.00,543.72 48.50,543.83 49.00,543.94 49.50,544.06 50.00,544.17 50.50,544.28 51.00,544.39 51.50,544.50 52.00,544.61 52.50,544.72 53.00,544.83 53.50,544.94 54.00,545.25 54.50,545.75 55.00,546.25 55.50,546.75 56.00,547.25 56.50,547.75 57.00,548.25 57.50,548.75 58.00,549.25 58.50,549.75 59.00,550.25 59.50,550.75 60.00,551.25 60.50,551.75 61.00,552.25 61.50,552.75 62.00,553.25 62.50,553.75 63.00,553.94 63.50,554.12 64.00,554.31 64.50,554.50 65.00,554.69 65.50,554.88 66.00,555.06 66.50,555.25 67.00,555.44 67.50,555.62 68.00,555.81 68.50,556.00 69.00,556.19 69.50,556.38 70.00,556.56 70.50,556.75 71.00,556.94 71.50,557.12 72.00,557.31 72.50,557.50 73.00,557.55 73.50,557.60 74.00,557.65 74.50,557.70 75.00,557.75 75.50,557.80 76.00,557.85 76.50,557.90 77.00,557.95 77.50,558.00 78.00,558.05 78.50,558.10 79.00,558.15 79.50,558.20 80.00,558.25 80.50,558.30 81.00,558.35 81.50,558.40 82.00,558.45 82.50,558.50 83.00,558.55 83.50,558.60 84.00,558.65 84.50,558.70 85.00,558.75 85.50,558.75 86.00,558.75 86.50,558.75 87.00,558.75 87.50,558.75 88.00,558.75 88.50,558.75 89.00,558.75 89.50,558.75 90.00,558.75 90.50,558.75 91.00,558.75 91.50,558.75 92.00,558.75 92.50,558.75 93.00,558.75 93.50,558.75 94.00,558.75 94.50,558.75 95.00,558.75 95.50,558.75 96.00,558.75 96.50,558.75 97.00,558.75 97.50,558.75 98.00,558.75 98.50,558.75 99.00,558.75 99.50,558.75 100.00,558.75 100.50,559.00 101.00,559.25 101.50,559.50 102.00,559.75 102.50,560.00 103.00,560.25 103.50,560.50 104.00,560.75 104.50,561.00 105.00,561.25 105.50,561.50 106.00,561.75 106.50,562.00 107.00,562.25 107.50,562.50 108.00,562.80 108.50,563.10 109.00,563.40 109.50,563.70 110.00,564.00 110.00,563.80 109.50,564.00 109.00,564.20 108.50,564.40 108.00,564.60 107.50,564.88 107.00,565.15 106.50,565.42 106.00,565.70 105.50,565.98 105.00,566.25 104.50,566.62 104.00,567.00 103.50,567.38 103.00,567.75 102.50,568.12 102.00,568.50 101.50,568.88 101.00,569.25 100.50,569.62 100.00,570.00 99.50,570.25 99.00,570.50 98.50,570.75 98.00,571.00 97.50,571.25 97.00,571.50 96.50,571.75 96.00,572.00 95.50,572.25 95.00,572.50 94.50,572.67 94.00,572.83 93.50,573.00 93.00,573.17 92.50,573.33 92.00,573.50 91.50,573.67 91.00,573.83 90.50,574.00 90.00,574.17 89.50,574.33 89.00,574.50 88.50,574.67 88.00,574.83 87.50,575.00 87.00,574.98 86.50,574.96 86.00,574.94 85.50,574.92 85.00,574.90 84.50,574.88 84.00,574.86 83.50,574.84 83.00,574.82 82.50,574.80 82.00,574.78 81.50,574.76 81.00,574.74 80.50,574.72 80.00,574.70 79.50,574.68 79.00,574.66 78.50,574.64 78.00,574.62 77.50,574.60 77.00,574.58 76.50,574.56 76.00,574.54 75.50,574.52 75.00,574.50 74.50,574.52 74.00,574.54 73.50,574.56 73.00,574.58 72.50,574.60 72.00,574.62 71.50,574.64 71.00,574.66 70.50,574.68 70.00,574.70 69.50,574.72 69.00,574.74 68.50,574.76 68.00,574.78 67.50,574.80 67.00,574.82 66.50,574.84 66.00,574.86 65.50,574.88 65.00,574.90 64.50,574.92 64.00,574.94 63.50,574.96 63.00,574.98 62.50,575.00 62.00,574.93 61.50,574.86 61.00,574.79 60.50,574.72 60.00,574.65 59.50,574.58 59.00,574.51 58.50,574.44 58.00,574.37 57.50,574.30 57.00,574.23 56.50,574.16 56.00,574.09 55.50,574.02 55.00,573.95 54.50,573.88 54.00,573.81 53.50,573.74 53.00,573.67 52.50,573.60 52.00,573.53 51.50,573.46 51.00,573.39 50.50,573.32 50.00,573.25 49.50,573.06 49.00,572.88 48.50,572.69 48.00,572.50 47.50,572.31 47.00,572.12 46.50,571.94 46.00,571.75 45.50,571.56 45.00,571.38 44.50,571.19 44.00,571.00 43.50,570.81 43.00,570.62 42.50,570.44 42.00,570.25 41.50,570.06 41.00,569.88 40.50,569.69 40.00,569.50 39.50,569.03 39.00,568.57 38.50,568.10 38.00,567.63 37.50,567.17 37.00,566.70 36.50,566.23 36.00,565.77 35.50,565.30 35.00,564.83 34.50,564.37 34.00,563.90 33.50,563.43 33.00,562.97 32.50,562.50 32.00,562.00 31.50,561.50 31.00,561.00 30.50,560.50 30.00,560.00 29.50,559.50 29.00,559.00 28.50,558.50 28.00,558.00 27.50,557.50 27.00,557.00 26.50,556.50 26.00,556.00 25.50,555.50 25.00,555.00 24.50,554.12 24.00,553.25 23.50,552.38 23.00,551.50 22.50,550.62 22.00,549.75 21.50,548.88 21.00,548.00 20.50,547.12 20.00,546.25 19.50,545.12 19.00,544.00 18.50,542.88 18.00,541.75 17.50,540.62 17.00,539.50 16.50,538.38 16.00,537.25 15.50,536.12 15.00,535.00 14.50,533.75 14.00,532.50 13.50,531.25 13.00,530.00 12.50,528.75 12.00,527.50 11.50,526.25 11.00,525.00 10.50,523.75 10.00,522.50 9.50,521.25 9.00,520.00 8.50,518.75 8.00,517.50 7.50,516.25 7.00,515.00 6.50,513.75 6.00,512.50 5.50,511.25 5.00,510.00 4.50,509.00 4.00,508.00 3.50,507.00 3.00,506.00 2.50,505.00 2.00,504.00 1.50,503.00 1.00,502.00 0.50,501.00 0.00,500.00 -0.50,499.00 -1.00,498.00 -1.50,497.00 -2.00,496.00" fill="#f23645" stroke="#f23645" stroke-width="1" stroke-linejoin="round"/>
<polygon points="126.50,571.68 127.00,571.80 127.50,571.92 128.00,572.03 128.50,572.15 129.00,572.27 129.00,572.08 128.50,572.80 128.00,572.49 127.50,572.18 127.00,571.87 126.50,571.56" fill="#f23645" stroke="#f23645" stroke-width="1" stroke-linejoin="round"/>
<polygon points="291.00,460.67 291.50,459.70 292.00,459.10 292.50,458.50 293.00,457.90 293.50,457.30 294.00,456.70 294.50,456.10 295.00,455.50 295.50,455.40 296.00,455.30 296.50,455.20 297.00,455.10 297.50,455.00 298.00,454.90 298.50,454.80 299.00,454.70 299.50,454.60 300.00,454.50 300.50,454.50 301.00,454.50 301.50,454.50 302.00,454.50 302.50,454.50 303.00,454.50 303.50,454.50 304.00,454.50 304.50,454.50 305.00,454.50 305.50,454.50 306.00,454.50 306.50,454.50 307.00,454.50 307.50,454.50 308.00,454.50 308.50,454.50 309.00,454.50 309.50,454.50 309.50,454.50 309.00,454.75 308.50,455.00 308.00,455.25 307.50,455.50 307.00,455.63 306.50,455.77 306.00,455.90 305.50,456.03 305.00,456.17 304.50,456.30 304.00,456.43 303.50,456.57 303.00,456.70 302.50,456.83 302.00,456.97 301.50,457.10 301.00,457.23 300.50,457.37 300.00,457.50 299.50,457.64 299.00,457.79 298.50,457.93 298.00,458.07 297.50,458.21 297.00,458.36 296.50,458.50 296.00,458.64 295.50,458.79 295.00,458.93 294.50,459.07 294.00,459.21 293.50,459.36 293.00,459.50 292.50,459.58 292.00,459.67 291.50,459.75 291.00,459.83" fill="#f23645" stroke="#f23645" stroke-width="1" stroke-linejoin="round"/>
<polygon points="366.00,453.26 366.50,453.52 367.00,454.06 367.50,454.60 368.00,455.14 368.50,455.68 369.00,456.22 369.50,456.76 370.00,457.30 370.50,457.84 371.00,458.38 371.50,458.92 372.00,459.46 372.50,460.00 373.00,461.50 373.50,463.00 374.00,464.50 374.50,466.00 375.00,467.50 375.50,469.00 376.00,470.50 376.50,472.00 377.00,473.50 377.50,475.00 378.00,476.50 378.50,478.00 379.00,479.50 379.50,481.00 380.00,482.50 380.50,483.62 381.00,484.75 381.50,485.88 382.00,487.00 382.50,488.12 383.00,489.25 383.50,490.38 384.00,491.50 384.50,492.62 385.00,493.75 385.50,494.88 386.00,496.00 386.50,497.12 387.00,498.25 387.50,499.38 388.00,500.50 388.50,501.62 389.00,502.75 389.50,503.88 390.00,505.00 390.50,506.17 391.00,507.33 391.50,508.50 392.00,509.67 392.50,510.83 393.00,512.00 393.50,513.17 394.00,514.33 394.50,515.50 395.00,516.67 395.50,517.83 396.00,519.00 396.50,520.17 397.00,521.33 397.50,522.50 398.00,524.20 398.50,525.90 399.00,527.60 399.50,529.30 400.00,531.00 400.50,531.40 401.00,531.80 401.50,532.20 402.00,532.60 402.50,533.00 403.00,533.40 403.50,533.80 404.00,534.20 404.50,534.60 405.00,535.00 405.50,535.40 406.00,535.80 406.50,536.20 407.00,536.60 407.50,537.00 408.00,537.17 408.50,537.33 409.00,537.50 409.50,537.67 410.00,537.83 410.50,538.00 411.00,538.17 411.50,538.33 412.00,538.50 412.50,538.67 413.00,538.83 413.50,539.00 414.00,539.17 414.50,539.33 415.00,539.50 415.50,539.54 416.00,539.58 416.50,539.62 417.00,539.66 417.50,539.70 418.00,539.74 418.50,539.78 419.00,539.82 419.50,539.86 420.00,539.90 420.50,539.94 421.00,539.98 421.50,540.02 422.00,540.06 422.50,540.10 423.00,540.14 423.50,540.18 424.00,540.22 424.50,540.26 425.00,540.30 425.50,540.34 426.00,540.38 426.50,540.42 427.00,540.46 427.50,540.50 428.00,540.50 428.50,540.50 429.00,540.50 429.50,540.50 429.50,538.25 429.00,541.00 428.50,543.62 428.00,546.25 427.50,547.92 427.00,549.58 426.50,551.25 426.00,552.92 425.50,554.58 425.00,556.25 424.50,557.38 424.00,558.50 423.50,559.62 423.00,560.75 422.50,561.88 422.00,563.00 421.50,564.12 421.00,565.25 420.50,566.38 420.00,567.50 419.50,567.75 419.00,568.00 418.50,568.25 418.00,568.50 417.50,568.75 417.00,569.00 416.50,569.25 416.00,569.50 415.50,569.75 415.00,570.00 414.50,569.67 414.00,569.33 413.50,569.00 413.00,568.67 412.50,568.33 412.00,568.00 411.50,567.67 411.00,567.33 410.50,567.00 410.00,566.67 409.50,566.33 409.00,566.00 408.50,565.67 408.00,565.33 407.50,565.00 407.00,564.40 406.50,563.80 406.00,563.20 405.50,562.60 405.00,562.00 404.50,561.40 404.00,560.80 403.50,560.20 403.00,559.60 402.50,559.00 402.00,558.40 401.50,557.80 401.00,557.20 400.50,556.60 400.00,556.00 399.50,555.27 399.00,554.53 398.50,553.80 398.00,553.07 397.50,552.33 397.00,551.60 396.50,550.87 396.00,550.13 395.50,549.40 395.00,548.67 394.50,547.93 394.00,547.20 393.50,546.47 393.00,545.73 392.50,545.00 392.00,543.33 391.50,541.67 391.00,540.00 390.50,538.33 390.00,536.67 389.50,535.00 389.00,533.33 388.50,531.67 388.00,530.00 387.50,528.33 387.00,526.67 386.50,525.00 386.00,523.33 385.50,521.67 385.00,520.00 384.50,518.12 384.00,516.25 383.50,514.38 383.00,512.50 382.50,510.62 382.00,508.75 381.50,506.88 381.00,505.00 380.50,503.12 380.00,501.25 379.50,499.38 379.00,497.50 378.50,495.62 378.00,493.75 377.50,491.88 377.00,490.00 376.50,488.12 376.00,486.25 375.50,484.38 375.00,482.50 374.50,480.84 374.00,479.19 373.50,477.53 373.00,475.87 372.50,474.21 372.00,472.56 371.50,470.90 371.00,469.24 370.50,467.59 370.00,465.93 369.50,464.27 369.00,462.61 368.50,460.96 368.00,459.30 367.50,457.64 367.00,455.99 366.50,454.33 366.00,452.69" fill="#f23645" stroke="#f23645" stroke-width="1" stroke-linejoin="round"/>
<polygon points="523.50,534.00 524.00,532.67 524.50,531.33 525.00,530.00 525.50,529.23 526.00,528.47 526.50,527.70 527.00,526.93 527.50,526.17 528.00,525.40 528.50,524.63 529.00,524.55 529.50,525.15 530.00,525.75 530.50,526.35 531.00,526.95 531.50,527.55 532.00,528.15 532.50,528.75 533.00,530.25 533.50,531.75 534.00,533.25 534.50,534.75 535.00,536.25 535.50,537.75 536.00,539.25 536.50,540.37 537.00,541.10 537.50,541.83 538.00,542.57 538.50,543.30 539.00,544.03 539.50,544.77 540.00,545.50 540.50,545.60 541.00,545.70 541.50,545.80 542.00,545.90 542.50,546.00 543.00,546.10 543.50,546.20 544.00,546.30 544.50,546.40 545.00,546.50 545.50,546.60 546.00,546.70 546.50,546.80 547.00,546.90 547.50,547.00 548.00,547.10 548.50,547.20 549.00,547.30 549.50,547.40 550.00,547.50 550.50,547.57 551.00,547.63 551.50,547.70 552.00,547.77 552.50,547.83 553.00,547.90 553.50,547.97 554.00,548.03 554.50,548.10 555.00,548.17 555.50,548.23 556.00,548.30 556.50,548.37 557.00,548.43 557.50,548.50 558.00,548.57 558.50,548.63 559.00,548.70 559.50,548.77 560.00,548.83 560.50,548.90 561.00,548.97 561.50,549.03 562.00,549.10 562.50,549.17 563.00,549.23 563.50,549.30 564.00,549.37 564.50,549.43 565.00,549.50 565.50,549.75 566.00,550.00 566.50,550.25 567.00,550.50 567.50,550.75 568.00,551.00 568.50,551.25 569.00,551.50 569.50,551.75 570.00,552.00 570.50,552.25 571.00,552.50 571.50,552.75 572.00,553.00 572.50,553.25 573.00,553.50 573.50,553.75 574.00,554.00 574.50,554.25 575.00,554.50 575.50,554.92 576.00,555.35 576.50,555.77 577.00,556.20 577.50,556.62 578.00,557.05 578.50,557.48 579.00,557.90 579.00,557.72 578.50,558.13 578.00,558.39 577.50,558.64 577.00,558.90 576.50,559.16 576.00,559.41 575.50,559.67 575.00,559.93 574.50,560.19 574.00,560.44 573.50,560.70 573.00,560.96 572.50,561.21 572.00,561.47 571.50,561.73 571.00,561.99 570.50,562.24 570.00,562.50 569.50,562.75 569.00,563.00 568.50,563.25 568.00,563.50 567.50,563.75 567.00,564.00 566.50,564.25 566.00,564.50 565.50,564.75 565.00,565.00 564.50,565.25 564.00,565.50 563.50,565.75 563.00,566.00 562.50,566.25 562.00,566.50 561.50,566.75 561.00,567.00 560.50,567.25 560.00,567.50 559.50,567.83 559.00,568.17 558.50,568.50 558.00,568.83 557.50,569.17 557.00,569.50 556.50,569.83 556.00,570.17 555.50,570.50 555.00,570.83 554.50,571.17 554.00,571.50 553.50,571.83 553.00,572.17 552.50,572.50 552.00,572.67 551.50,572.83 551.00,573.00 550.50,573.17 550.00,573.33 549.50,573.50 549.00,573.67 548.50,573.83 548.00,574.00 547.50,574.17 547.00,574.33 546.50,574.50 546.00,574.67 545.50,574.83 545.00,575.00 544.50,574.80 544.00,574.60 543.50,574.40 543.00,574.20 542.50,574.00 542.00,573.80 541.50,573.60 541.00,573.40 540.50,573.20 540.00,573.00 539.50,572.80 539.00,572.60 538.50,572.40 538.00,572.20 537.50,572.00 537.00,571.05 536.50,570.10 536.00,569.15 535.50,568.20 535.00,567.25 534.50,566.30 534.00,565.35 533.50,564.40 533.00,563.45 532.50,562.50 532.00,561.00 531.50,559.50 531.00,558.00 530.50,556.50 530.00,555.00 529.50,553.50 529.00,552.00 528.50,550.50 528.00,549.00 527.50,547.50 527.00,545.57 526.50,543.63 526.00,541.70 525.50,539.77 525.00,537.83 524.50,535.90 524.00,533.97 523.50,532.17" fill="#f23645" stroke="#f23645" stroke-width="1" stroke-linejoin="round"/>
<polyline points="-2.00,467.50 0.00,468.00 5.00,470.50 15.00,485.00 25.00,495.00 37.50,502.00 53.75,505.50 62.50,520.00 72.50,532.50 82.50,537.00 100.00,537.50 107.50,543.75 115.00,553.75 122.50,561.25 130.00,567.00 136.25,569.50 142.50,568.00 147.50,561.25 155.00,553.75 165.00,551.25 172.50,550.00 180.00,542.50 187.50,527.50 193.75,516.25 200.00,512.00 212.50,506.25 225.00,503.75 240.00,497.50 255.00,482.50 272.50,480.00 280.00,470.00 287.50,453.75 293.75,446.25 312.50,446.25 332.50,446.25 342.50,445.75 350.00,444.50 360.00,444.00 367.50,446.25 375.00,457.50 382.50,472.50 390.00,485.00 400.00,493.25 407.50,497.00 415.00,498.75 432.50,499.00 453.75,499.00 458.75,501.25 465.00,504.50 475.00,505.00 500.00,505.00 517.50,504.50 522.50,500.00 527.50,493.00 531.25,493.75 536.25,502.00 542.50,506.25 560.00,507.00 565.00,511.25 572.50,520.00 577.50,530.00 582.50,541.25 586.25,547.00 590.00,547.50 600.00,547.50 620.00,547.50 623.75,552.50 627.50,558.75 633.75,561.25 647.50,561.25 655.00,560.00 663.75,556.25 672.50,550.00 682.50,543.75 690.00,536.25 700.00,532.50 707.50,526.25 715.00,512.50 722.50,501.25 730.00,497.50 740.00,497.00 762.50,497.00 770.00,487.50 780.00,480.00 790.00,472.50 802.00,466.00" fill="none" stroke="#b2b5be" stroke-width="2.2" stroke-linejoin="round" stroke-linecap="round"/>
<polyline points="109.50,564.00 110.00,563.80 110.50,563.60 111.00,563.40 111.50,563.20 112.00,563.00 112.50,562.80 113.00,562.82 113.50,563.05 114.00,563.28 114.50,563.52 115.00,563.75 115.50,563.98 116.00,564.22 116.50,564.45 117.00,564.68 117.50,564.92 118.00,565.15 118.50,565.38 119.00,565.71 119.50,566.14 120.00,566.57 120.50,567.00 121.00,567.43 121.50,567.86 122.00,568.29 122.50,568.71 123.00,569.14 123.50,569.57 124.00,570.00 124.50,570.31 125.00,570.62 125.50,570.93 126.00,571.24 126.50,571.56 127.00,571.87 127.50,572.18" fill="none" stroke="#b2b5be" stroke-width="2.6" stroke-linejoin="round" stroke-linecap="round"/>
<polyline points="129.00,572.08 129.50,571.37 130.00,570.65 130.50,569.93 131.00,569.22 131.50,568.50 132.00,567.82 132.50,567.14 133.00,566.46 133.50,565.79 134.00,565.11" fill="none" stroke="#b2b5be" stroke-width="2.6" stroke-linejoin="round" stroke-linecap="round"/>
<polyline points="281.00,446.86 281.50,447.71 282.00,448.57 282.50,449.43 283.00,450.29 283.50,451.14 284.00,452.00 284.50,452.67 285.00,453.33 285.50,454.00 286.00,454.67 286.50,455.33 287.00,456.00 287.50,456.67 288.00,457.33 288.50,458.00 289.00,458.67 289.50,459.33 290.00,460.00 290.50,459.92 291.00,459.83 291.50,459.75" fill="none" stroke="#b2b5be" stroke-width="2.6" stroke-linejoin="round" stroke-linecap="round"/>
<polyline points="309.00,454.75 309.50,454.50 310.00,454.25 310.50,454.00 311.00,453.75 311.50,453.50 312.00,453.25 312.50,453.00 313.00,452.75 313.50,452.50 314.00,452.25 314.50,452.00 315.00,451.75 315.50,451.50 316.00,451.25 316.50,451.00 317.00,450.75 317.50,450.50 318.00,450.25 318.50,450.00 319.00,449.75 319.50,449.50 320.00,449.25 320.50,449.00 321.00,448.75 321.50,448.50 322.00,448.25 322.50,448.00 323.00,447.75 323.50,447.50 324.00,447.25 324.50,447.00 325.00,446.75 325.50,446.50 326.00,446.25 326.50,446.00 327.00,445.75 327.50,445.50 328.00,445.25 328.50,445.00 329.00,444.75 329.50,444.50 330.00,444.25 330.50,444.00 331.00,443.75 331.50,443.50 332.00,443.25 332.50,443.00 333.00,441.90 333.50,440.80 334.00,439.70 334.50,438.60 335.00,437.50" fill="none" stroke="#b2b5be" stroke-width="2.6" stroke-linejoin="round" stroke-linecap="round"/>
<polyline points="360.00,433.75 360.50,435.29 361.00,436.83 361.50,438.38 362.00,439.92 362.50,441.46 363.00,443.00 363.50,444.62 364.00,446.23 364.50,447.85 365.00,449.46 365.50,451.08 366.00,452.69" fill="none" stroke="#b2b5be" stroke-width="2.6" stroke-linejoin="round" stroke-linecap="round"/>
<polyline points="429.50,538.25 430.00,535.50 430.50,532.75 431.00,530.00 431.50,527.81 432.00,525.62 432.50,523.44 433.00,521.25 433.50,519.06 434.00,516.88 434.50,514.69 435.00,512.50 435.50,509.75 436.00,507.00 436.50,504.25 437.00,501.50 437.50,498.75 438.00,496.00 438.50,493.25 439.00,490.50 439.50,487.75 440.00,485.00 440.50,483.89 441.00,482.78 441.50,481.67 442.00,480.56 442.50,479.44 443.00,478.33 443.50,477.22 444.00,476.11 444.50,475.00 445.00,472.08 445.50,469.17 446.00,466.25 446.50,463.33 447.00,460.42 447.50,457.50" fill="none" stroke="#b2b5be" stroke-width="2.6" stroke-linejoin="round" stroke-linecap="round"/>
<polyline points="474.50,466.50 475.00,469.58 475.50,472.67 476.00,475.75 476.50,478.83 477.00,481.92 477.50,485.00 478.00,487.50 478.50,490.00 479.00,492.50 479.50,495.00 480.00,497.50 480.50,500.00 481.00,502.50 481.50,505.00 482.00,507.50 482.50,510.00 483.00,511.75 483.50,513.50 484.00,515.25 484.50,517.00 485.00,518.75 485.50,520.50 486.00,522.25 486.50,524.00 487.00,525.75 487.50,527.50 488.00,528.54 488.50,529.57 489.00,530.61 489.50,531.64 490.00,532.68 490.50,533.71 491.00,534.75 491.50,535.79 492.00,536.82 492.50,537.86 493.00,538.89 493.50,539.93 494.00,540.96 494.50,542.00 495.00,541.18 495.50,540.35 496.00,539.53 496.50,538.71 497.00,537.88 497.50,537.06 498.00,536.24 498.50,535.41 499.00,534.53 499.50,533.60 500.00,532.67 500.50,531.73 501.00,530.80 501.50,529.87 502.00,528.93 502.50,528.00 503.00,527.80 503.50,527.60 504.00,527.40 504.50,527.20 505.00,527.00 505.50,526.80 506.00,526.60 506.50,526.40 507.00,526.20 507.50,526.00 508.00,525.80 508.50,525.60 509.00,525.40 509.50,525.20 510.00,525.00 510.50,524.70 511.00,524.40 511.50,524.10 512.00,523.80 512.50,523.50 513.00,523.20 513.50,522.90 514.00,522.60 514.50,522.30 515.00,522.00 515.50,521.70 516.00,521.40 516.50,521.20 517.00,521.10 517.50,521.00 518.00,520.90 518.50,520.80 519.00,520.70 519.50,520.60 520.00,520.50 520.50,522.17 521.00,523.83 521.50,525.50 522.00,527.17 522.50,528.83 523.00,530.50 523.50,532.17" fill="none" stroke="#b2b5be" stroke-width="2.6" stroke-linejoin="round" stroke-linecap="round"/>
<polyline points="579.00,557.72 579.50,557.15 580.00,556.58 580.50,556.02 581.00,555.45 581.50,554.88 582.00,554.32 582.50,553.75 583.00,553.58 583.50,553.42 584.00,553.25 584.50,553.08 585.00,552.92 585.50,552.75 586.00,552.58 586.50,552.57 587.00,552.70 587.50,552.83 588.00,552.97 588.50,553.10 589.00,553.23 589.50,553.37 590.00,553.50 590.50,553.63 591.00,553.77 591.50,553.90 592.00,554.03 592.50,554.17 593.00,554.30 593.50,554.43 594.00,554.72 594.50,555.16 595.00,555.60 595.50,556.04 596.00,556.48 596.50,556.92 597.00,557.36 597.50,557.80 598.00,558.24 598.50,558.68 599.00,559.12 599.50,559.56 600.00,560.00 600.50,560.17 601.00,560.33 601.50,560.50 602.00,560.67 602.50,560.83 603.00,561.00 603.50,561.17 604.00,561.19 604.50,561.06 605.00,560.94 605.50,560.81 606.00,560.69 606.50,560.56 607.00,560.44 607.50,560.31 608.00,560.19 608.50,560.06 609.00,559.85 609.50,559.55 610.00,559.25 610.50,558.95 611.00,558.65 611.50,558.35 612.00,558.05 612.50,557.75 613.00,557.45 613.50,557.15 614.00,556.85 614.50,556.55 615.00,556.25 615.50,556.03 616.00,555.82 616.50,555.60 617.00,555.38 617.50,555.17 618.00,554.95 618.50,554.73 619.00,554.52 619.50,554.30 620.00,554.08 620.50,553.87 621.00,553.65 621.50,553.43 622.00,553.22 622.50,553.00 623.00,552.27 623.50,551.53 624.00,550.80 624.50,550.07 625.00,549.33 625.50,548.60 626.00,547.87" fill="none" stroke="#b2b5be" stroke-width="2.6" stroke-linejoin="round" stroke-linecap="round"/>
<polyline points="644.50,551.46 645.00,551.60 645.50,551.74 646.00,551.88 646.50,552.02 647.00,552.16 647.50,552.30 648.00,552.44 648.50,552.58 649.00,552.72 649.50,552.86 650.00,553.00 650.50,553.17 651.00,553.33 651.50,553.50 652.00,553.67 652.50,553.83 653.00,554.00 653.50,554.17 654.00,554.33 654.50,554.50 655.00,554.67 655.50,554.83 656.00,555.00 656.50,555.17 657.00,555.33 657.50,555.50 658.00,555.58 658.50,555.67 659.00,555.75 659.50,555.83 660.00,555.92 660.50,556.00 661.00,556.08 661.50,556.17 662.00,556.25 662.50,555.38 663.00,554.50 663.50,553.62 664.00,552.75 664.50,551.88 665.00,551.00 665.50,549.90" fill="none" stroke="#b2b5be" stroke-width="2.6" stroke-linejoin="round" stroke-linecap="round"/>
<polyline points="754.50,463.10 755.00,465.00 755.50,466.04 756.00,467.08 756.50,468.12 757.00,469.17 757.50,470.21 758.00,471.25 758.50,471.63 759.00,472.02 759.50,472.40 760.00,472.79 760.50,473.17 761.00,473.56 761.50,473.42 762.00,472.75 762.50,472.08 763.00,471.42 763.50,470.75 764.00,470.08 764.50,469.42 765.00,468.75 765.50,467.92 766.00,467.08 766.50,466.25 767.00,465.42 767.50,464.58 768.00,463.75 768.50,462.92 769.00,462.63 769.50,462.90 770.00,463.17 770.50,463.43 771.00,463.70 771.50,463.97 772.00,464.23 772.50,464.50 773.00,464.18 773.50,463.85 774.00,463.52 774.50,463.20 775.00,462.88 775.50,462.55 776.00,462.23 776.50,461.90 777.00,461.57 777.50,461.25 778.00,460.75 778.50,460.25 779.00,459.75 779.50,459.25 780.00,458.75 780.50,458.25 781.00,457.75 781.50,457.00 782.00,456.00" fill="none" stroke="#b2b5be" stroke-width="2.6" stroke-linejoin="round" stroke-linecap="round"/>
<polyline points="-2.00,446.00 0.00,446.25 7.50,448.00 17.50,455.50 27.50,459.50 37.50,463.25 53.75,465.00 58.75,477.50 63.75,492.50 71.25,507.00 82.50,513.75 100.00,514.50 107.50,522.50 115.00,541.25 121.25,550.00 127.50,558.00 135.00,565.50 141.25,563.75 145.00,560.00 150.00,549.50 156.25,542.50 165.00,540.00 172.50,537.50 177.50,530.00 182.50,515.00 187.50,496.25 192.50,480.00 200.00,473.00 205.00,471.25 212.50,467.00 225.00,463.75 237.50,459.50 250.00,454.50 262.50,451.25 272.50,451.25 280.00,447.50 286.25,441.25 295.00,437.50 312.50,437.50 332.50,437.50 340.00,437.00 345.00,435.50 350.00,434.50 360.00,433.75 370.00,435.50 380.00,443.00 390.00,450.00 400.00,453.50 412.50,455.50 430.00,456.00 447.50,456.00 451.25,456.50 456.25,458.00 461.25,463.00 466.25,466.50 475.00,466.50 500.00,466.50 517.50,466.25 522.50,464.50 527.50,461.25 531.25,461.75 536.25,465.50 542.50,467.00 560.00,467.00 565.00,470.00 572.50,485.00 577.50,500.00 582.50,520.00 586.25,530.00 590.00,531.25 600.00,531.25 620.00,531.25 623.75,540.00 626.25,547.50 631.25,553.00 637.50,553.75 643.75,551.75 655.00,551.25 665.00,550.50 671.25,545.00 677.50,537.50 685.00,527.50 692.50,518.75 700.00,513.75 707.50,502.50 713.75,490.00 720.00,475.00 725.00,466.25 730.00,462.50 736.25,462.00 752.50,462.00 765.00,461.25 775.00,458.00 782.50,455.50 790.00,452.50 802.00,447.50" fill="none" stroke="#4caf50" stroke-width="1.9" stroke-linejoin="round"/>
<polyline points="-2.00,491.25 0.00,491.25 5.00,491.25 10.00,498.75 15.00,512.50 22.50,527.50 32.50,536.25 42.50,542.50 53.75,545.00 62.50,553.75 72.50,557.50 85.00,558.75 100.00,558.75 107.50,562.50 115.00,567.00 122.50,570.75 130.00,572.50 140.00,572.50 150.00,568.00 160.00,566.25 170.00,565.00 177.50,562.50 185.00,557.50 192.50,552.50 200.00,548.50 212.50,545.50 227.50,545.00 235.00,538.75 241.25,536.25 247.50,525.00 255.00,513.75 260.00,511.25 271.25,510.00 276.25,505.00 282.50,485.00 287.50,470.00 291.25,460.00 295.00,455.50 300.00,454.50 312.50,454.50 340.00,454.50 350.00,453.75 366.25,453.25 372.50,460.00 380.00,482.50 390.00,505.00 397.50,522.50 400.00,531.00 407.50,537.00 415.00,539.50 427.50,540.50 453.75,540.50 460.00,542.50 467.50,543.50 500.00,543.50 516.25,543.00 521.25,540.00 525.00,530.00 528.75,524.25 532.50,528.75 536.25,540.00 540.00,545.50 550.00,547.50 565.00,549.50 575.00,554.50 580.00,558.75 586.25,563.75 600.00,563.75 618.75,563.75 625.00,567.50 632.50,569.50 646.25,569.50 653.75,567.00 661.25,562.50 668.75,558.75 680.00,555.50 690.00,552.50 700.00,550.50 707.50,546.25 715.00,538.75 722.50,533.75 730.00,532.50 760.00,532.50 766.25,525.00 775.00,512.50 782.50,505.00 790.00,493.75 802.00,486.50" fill="none" stroke="#f23645" stroke-width="1.9" stroke-linejoin="round"/>
<polyline points="444.3,476 447.6,456.5" fill="none" stroke="#4caf50" stroke-width="2.4" stroke-linecap="round"/>
<polyline points="330.9,443.6 334.6,437.6" fill="none" stroke="#4caf50" stroke-width="2.4" stroke-linecap="round"/>
<polygon points="94.00,594.75 115.00,576.75 112.75,572.00 133.75,573.00 123.60,591.00 121.00,587.00" fill="#ffffff" stroke="#ffffff" stroke-width="0.6" stroke-linejoin="round"/>
<polygon points="297.90,401.25 320.40,412.50 323.00,409.10 329.40,429.40 308.40,424.90 312.10,422.25" fill="#ffffff" stroke="#ffffff" stroke-width="0.6" stroke-linejoin="round"/>
<polygon points="664.25,563.10 684.90,569.90 680.40,572.50 699.50,602.10 671.40,580.40 668.40,583.75" fill="#ffffff" stroke="#ffffff" stroke-width="0.6" stroke-linejoin="round"/>
<g font-family="'Liberation Sans',sans-serif" font-size="11.7" text-anchor="middle" style="filter:blur(0.3px)">
<text x="-12.44" y="635" fill="#c6c9d0" stroke="#c6c9d0" stroke-width="0.4" textLength="27" lengthAdjust="spacingAndGlyphs">09:00</text>
<text x="37.50" y="635" fill="#c6c9d0" stroke="#c6c9d0" stroke-width="0.4" textLength="27" lengthAdjust="spacingAndGlyphs">12:00</text>
<text x="87.44" y="635" fill="#c6c9d0" stroke="#c6c9d0" stroke-width="0.4" textLength="27" lengthAdjust="spacingAndGlyphs">15:00</text>
<text x="137.38" y="635" fill="#c6c9d0" stroke="#c6c9d0" stroke-width="0.4" textLength="27" lengthAdjust="spacingAndGlyphs">18:00</text>
<text x="187.32" y="635" fill="#c6c9d0" stroke="#c6c9d0" stroke-width="0.4" textLength="27" lengthAdjust="spacingAndGlyphs">21:00</text>
<text x="236.86" y="635" fill="#d8dae0" font-weight="bold">3</text>
<text x="287.20" y="635" fill="#c6c9d0" stroke="#c6c9d0" stroke-width="0.4" textLength="27" lengthAdjust="spacingAndGlyphs">03:00</text>
<text x="337.14" y="635" fill="#c6c9d0" stroke="#c6c9d0" stroke-width="0.4" textLength="27" lengthAdjust="spacingAndGlyphs">06:00</text>
<text x="387.08" y="635" fill="#c6c9d0" stroke="#c6c9d0" stroke-width="0.4" textLength="27" lengthAdjust="spacingAndGlyphs">09:00</text>
<text x="437.02" y="635" fill="#c6c9d0" stroke="#c6c9d0" stroke-width="0.4" textLength="27" lengthAdjust="spacingAndGlyphs">12:00</text>
<text x="486.96" y="635" fill="#c6c9d0" stroke="#c6c9d0" stroke-width="0.4" textLength="27" lengthAdjust="spacingAndGlyphs">15:00</text>
<text x="536.90" y="635" fill="#c6c9d0" stroke="#c6c9d0" stroke-width="0.4" textLength="27" lengthAdjust="spacingAndGlyphs">18:00</text>
<text x="586.84" y="635" fill="#c6c9d0" stroke="#c6c9d0" stroke-width="0.4" textLength="27" lengthAdjust="spacingAndGlyphs">21:00</text>
<text x="636.38" y="635" fill="#d8dae0" font-weight="bold">4</text>
<text x="686.72" y="635" fill="#c6c9d0" stroke="#c6c9d0" stroke-width="0.4" textLength="27" lengthAdjust="spacingAndGlyphs">03:00</text>
<text x="736.66" y="635" fill="#c6c9d0" stroke="#c6c9d0" stroke-width="0.4" textLength="27" lengthAdjust="spacingAndGlyphs">06:00</text>
<text x="786.60" y="635" fill="#c6c9d0" stroke="#c6c9d0" stroke-width="0.4" textLength="27" lengthAdjust="spacingAndGlyphs">09:00</text>
</g>
</svg></body></html>
